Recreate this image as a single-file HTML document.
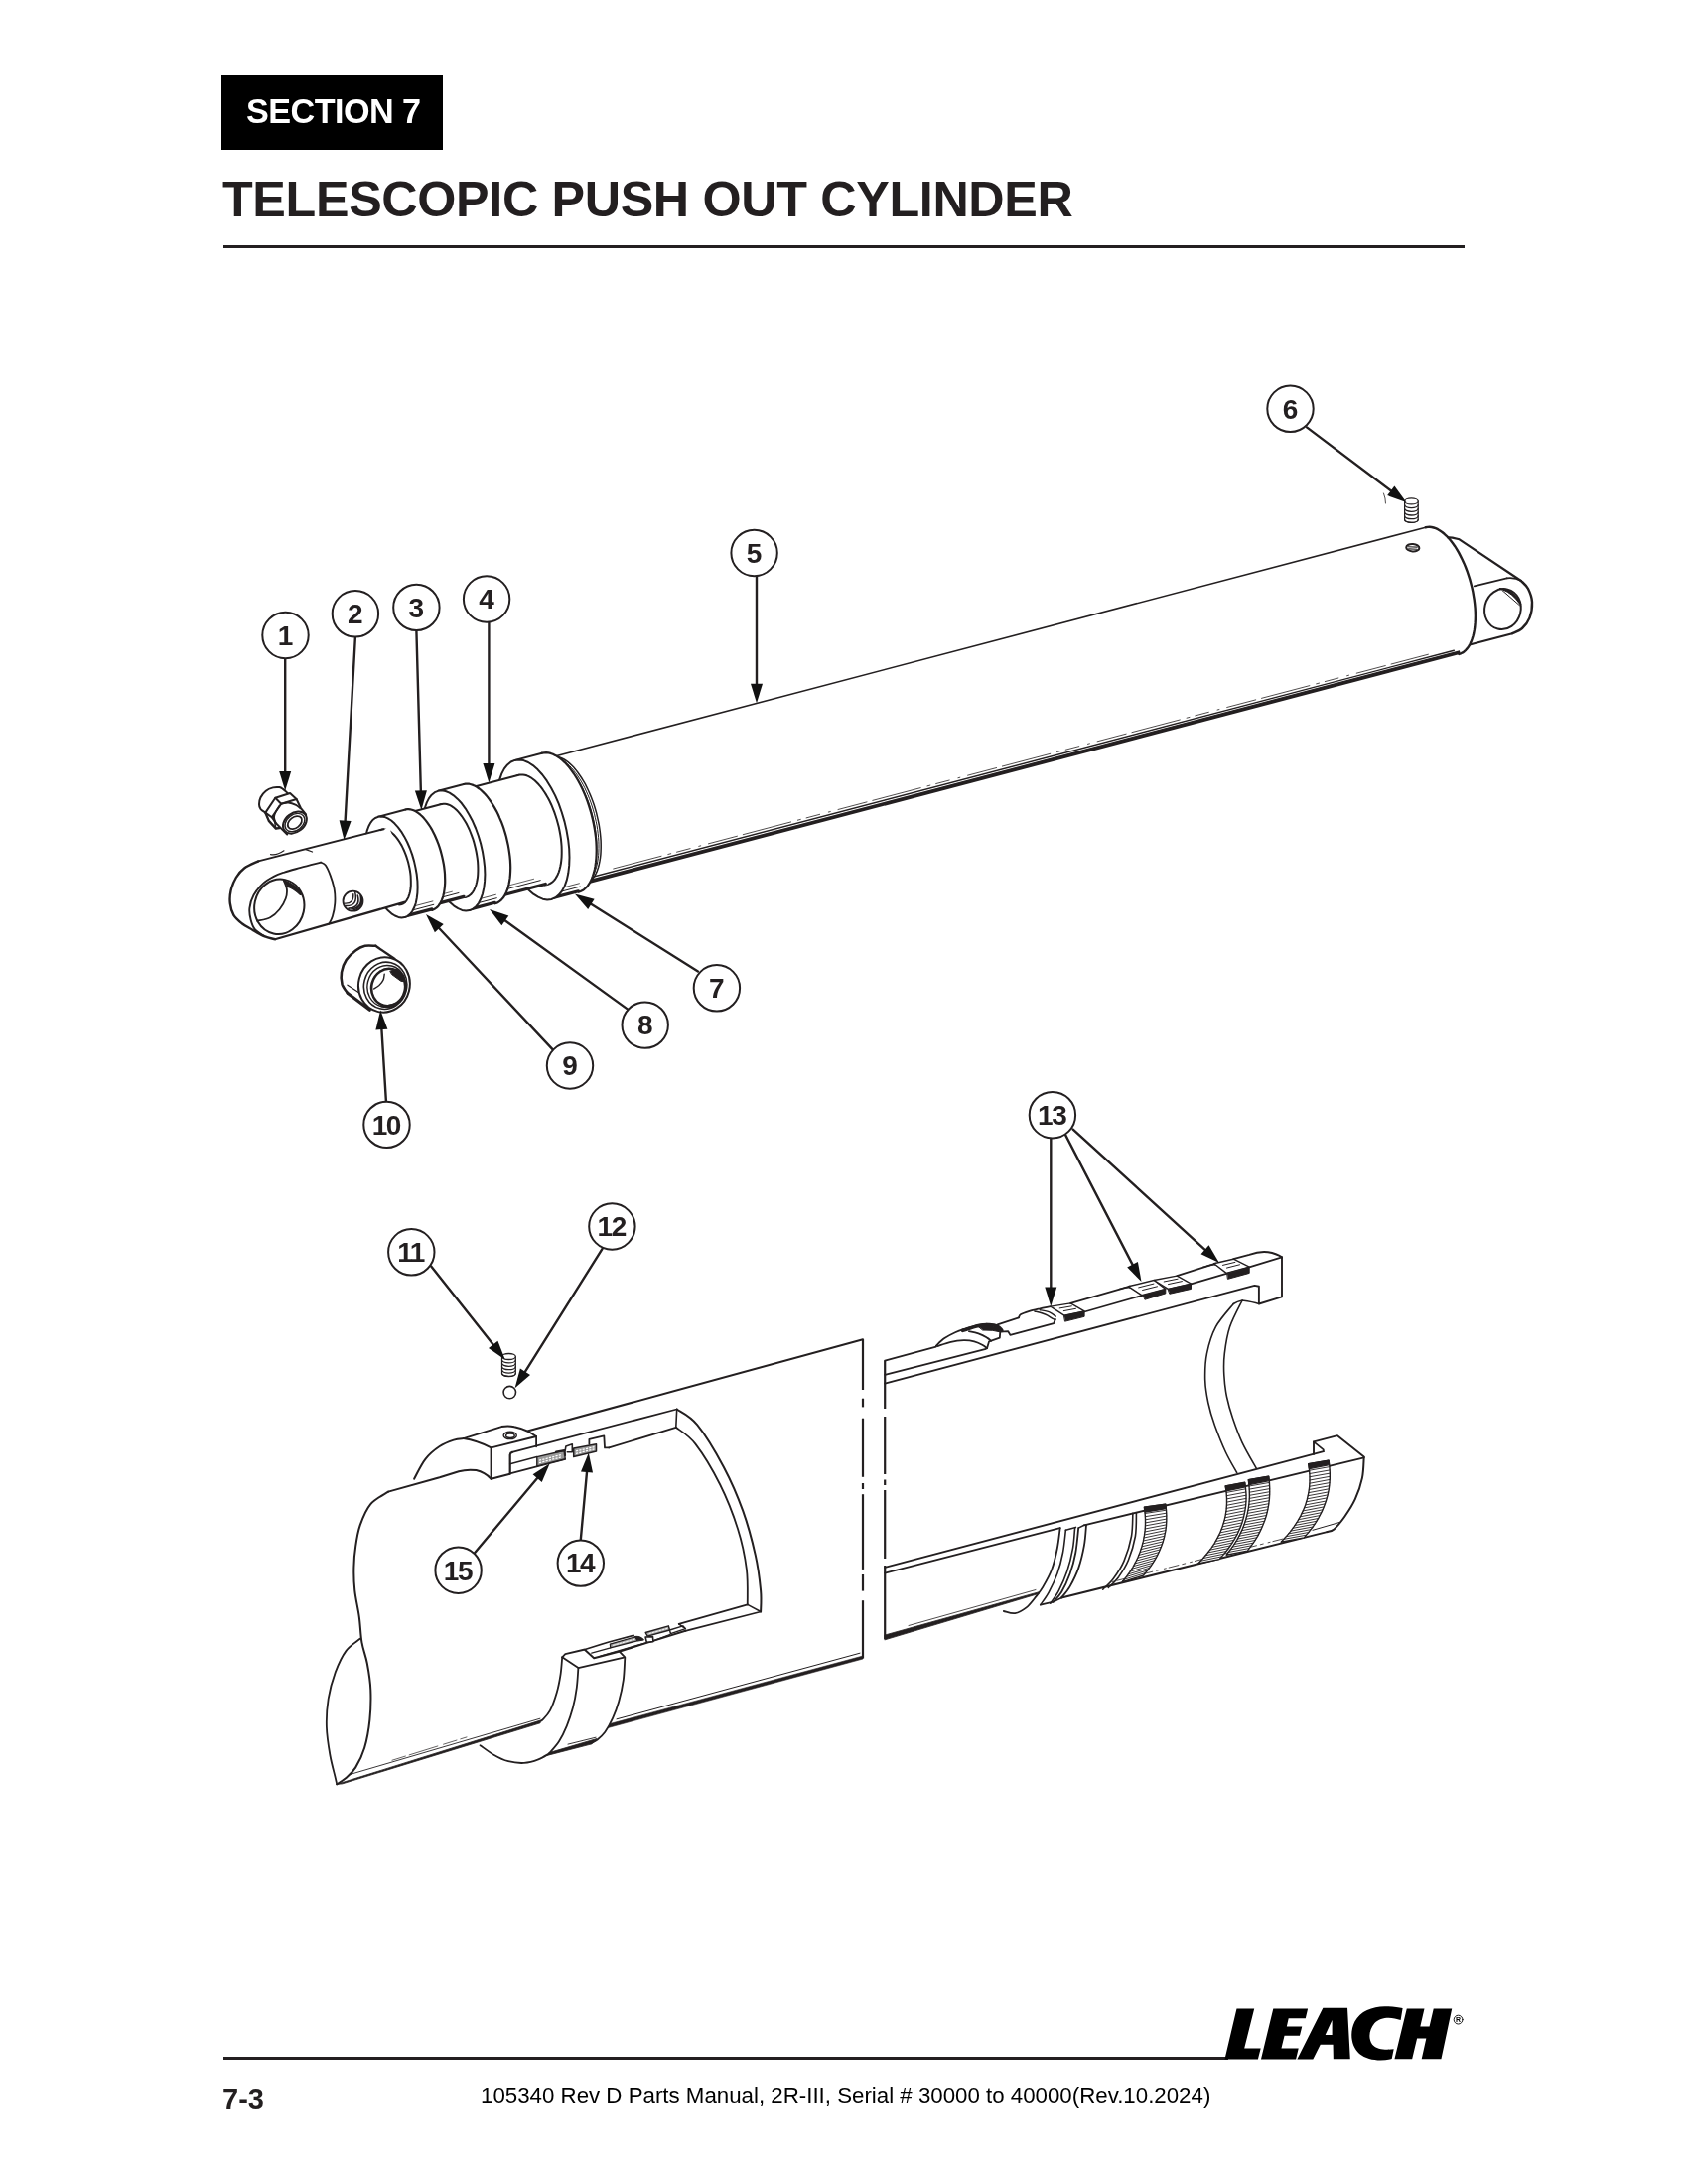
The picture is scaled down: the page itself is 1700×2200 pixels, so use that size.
<!DOCTYPE html>
<html><head><meta charset="utf-8"><title>Telescopic Push Out Cylinder</title>
<style>
html,body{margin:0;padding:0;background:#fff;}
body{width:1700px;height:2200px;position:relative;overflow:hidden;font-family:"Liberation Sans",sans-serif;color:#231f20;}
.sec{position:absolute;left:223px;top:76px;width:223px;height:75px;background:#000;}
.sec span{position:absolute;left:25px;top:15.5px;font-size:34.2px;line-height:40px;font-weight:bold;color:#fff;white-space:nowrap;letter-spacing:-0.55px;}
.title{position:absolute;left:223.7px;top:171px;font-size:50.3px;line-height:60px;font-weight:bold;white-space:nowrap;letter-spacing:-0.35px;color:#231f20;}
.rule1{position:absolute;left:225px;top:247px;width:1250px;height:3px;background:#231f20;}
.rule2{position:absolute;left:225px;top:2071.5px;width:1012px;height:3px;background:#231f20;}
.pg{position:absolute;left:224px;top:2096.5px;font-size:29px;line-height:34px;font-weight:bold;white-space:nowrap;}
.ft{position:absolute;left:483.5px;top:2098px;font-size:22.29px;line-height:26px;white-space:nowrap;color:#000;}
svg{position:absolute;left:0;top:0;will-change:transform;}
.sec,.title,.pg,.ft{will-change:transform;}
svg text{font-family:"Liberation Sans",sans-serif;}
</style></head>
<body>
<div class="sec"><span>SECTION 7</span></div>
<div class="title">TELESCOPIC PUSH OUT CYLINDER</div>
<div class="rule1"></div>
<div class="rule2"></div>
<div class="pg">7-3</div>
<div class="ft">105340 Rev D Parts Manual, 2R-III, Serial # 30000 to 40000(Rev.10.2024)</div>
<svg width="1700" height="2200" viewBox="0 0 1700 2200" stroke-linecap="round" stroke-linejoin="round">
<path d="M1455 541 L1469.7 543.3 L1531.9 585 L1539 593 L1543 606.4 L1540.5 622.4 L1533 633 L1523 638.3 L1470 652 L1450 600Z" fill="#fff" stroke="none" stroke-width="0" />
<path d="M1455.5 541.2 Q1463 541.2 1469.7 543.3 L1531.9 585" fill="none" stroke="#231f20" stroke-width="2.2" />
<path d="M1531.9 585 C1533.1 586.3 1537.2 589.4 1539 593 C1540.8 596.6 1542.8 601.5 1543 606.4 C1543.2 611.3 1542.2 618 1540.5 622.4 C1538.8 626.8 1535.9 630.4 1533 633 C1530.1 635.6 1524.7 637.4 1523 638.3" fill="none" stroke="#231f20" stroke-width="2.4" />
<path d="M1523 638.3 L1478 650" stroke="#231f20" stroke-width="2.2" fill="none" />
<path d="M1484.8 590.4 L1517.7 582.4" stroke="#231f20" stroke-width="1.8" fill="none" />
<path d="M1517.7 582.4 Q1526 581.5 1531.9 585" fill="none" stroke="#231f20" stroke-width="1.8" />
<ellipse cx="1513.4" cy="613.6" rx="18.2" ry="20.6" transform="rotate(14 1513.4 613.6)" fill="#fff" stroke="#231f20" stroke-width="2"/>
<path d="M1510.5 592.5 Q1524.7 592.4 1532 608.8 L1530.6 608.3 Q1523.5 597.6 1514 594.2 Z" fill="#231f20" stroke="#231f20" stroke-width="1" />
<path d="M1512.8 594.5 L1530.6 609.9" fill="none" stroke="#231f20" stroke-width="1" />
<path d="M547.4 764.9 L1435.8 531.2 L1437.7 530.9 L1439.7 530.8 L1441.7 531 L1443.8 531.5 L1445.9 532.2 L1448.1 533.2 L1450.2 534.5 L1452.4 536 L1454.6 537.8 L1456.8 539.8 L1458.9 542.1 L1461 544.6 L1463.1 547.3 L1465.2 550.2 L1467.2 553.3 L1469.1 556.6 L1470.9 560.1 L1472.7 563.7 L1474.4 567.4 L1476 571.3 L1477.5 575.2 L1478.9 579.3 L1480.2 583.4 L1481.3 587.5 L1482.4 591.7 L1483.3 595.9 L1484 600.1 L1484.7 604.3 L1485.2 608.4 L1485.6 612.5 L1485.8 616.5 L1485.9 620.4 L1485.8 624.3 L1485.6 627.9 L1485.3 631.5 L1484.8 634.9 L1484.2 638.1 L1483.4 641.1 L1482.5 643.9 L1481.5 646.6 L1480.4 649 L1479.1 651.2 L1477.7 653.1 L1476.2 654.8 L1474.7 656.2 L1473 657.4 L1471.2 658.3 L1469.4 658.9 L581 892.6Z" fill="#fff" stroke="none" stroke-width="0" />
<path d="M547.4 764.9 L1435.8 531.2" stroke="#231f20" stroke-width="1.6" fill="none" />
<path d="M1435.8 531.2 L1437.7 530.9 L1439.7 530.8 L1441.7 531 L1443.8 531.5 L1445.9 532.2 L1448.1 533.2 L1450.2 534.5 L1452.4 536 L1454.6 537.8 L1456.8 539.8 L1458.9 542.1 L1461 544.6 L1463.1 547.3 L1465.2 550.2 L1467.2 553.3 L1469.1 556.6 L1470.9 560.1 L1472.7 563.7 L1474.4 567.4 L1476 571.3 L1477.5 575.2 L1478.9 579.3 L1480.2 583.4 L1481.3 587.5 L1482.4 591.7 L1483.3 595.9 L1484 600.1 L1484.7 604.3 L1485.2 608.4 L1485.6 612.5 L1485.8 616.5 L1485.9 620.4 L1485.8 624.3 L1485.6 627.9 L1485.3 631.5 L1484.8 634.9 L1484.2 638.1 L1483.4 641.1 L1482.5 643.9 L1481.5 646.6 L1480.4 649 L1479.1 651.2 L1477.7 653.1 L1476.2 654.8 L1474.7 656.2 L1473 657.4 L1471.2 658.3 L1469.4 658.9" fill="none" stroke="#231f20" stroke-width="2.4" />
<path d="M580.7 891.4 L1470.4 657" stroke="#231f20" stroke-width="3.8" fill="none" stroke-linecap="butt"/>
<path d="M585.5 886.3 L1464.3 655.2" stroke="#231f20" stroke-width="1.4" fill="none" />
<path d="M617.7 875 L1438.4 659.2" stroke="#231f20" stroke-width="0.8" fill="none" stroke-dasharray="50 7 3 6 14 9 2 8 30 6"/>
<ellipse cx="1422.8" cy="551.7" rx="6.6" ry="3.7" transform="rotate(4 1422.8 551.7)" fill="#fff" stroke="#231f20" stroke-width="2"/>
<path d="M1418.3 550.7 L1427.3 551.1 M1418.6 552.9 L1427 553.2" fill="none" stroke="#231f20" stroke-width="1.1" />
<path d="M553.3 763.3 L555.2 763.4 L557.2 763.6 L559.1 764.1 L561.1 764.9 L563.2 765.9 L565.2 767.1 L567.3 768.6 L569.3 770.3 L571.4 772.2 L573.4 774.3 L575.4 776.6 L577.4 779.1 L579.3 781.8 L581.2 784.7 L583.1 787.7 L584.9 790.9 L586.6 794.2 L588.2 797.7 L589.8 801.2 L591.3 804.9 L592.7 808.7 L594 812.5 L595.2 816.4 L596.3 820.3 L597.2 824.2 L598.1 828.2 L598.9 832.2 L599.5 836.1 L600 840.1 L600.4 843.9 L600.7 847.8 L600.8 851.5 L600.8 855.1 L600.7 858.7 L600.5 862.1 L600.1 865.4 L599.6 868.6 L599 871.6 L598.3 874.4 L597.4 877.1 L596.5 879.6 L595.4 881.8 L594.2 883.9 L592.9 885.8 L591.6 887.4 L590.1 888.9 L588.5 890 L586.9 891" fill="none" stroke="#231f20" stroke-width="1.2" />
<path d="M555.5 762.8 L557.4 762.8 L559.4 763.1 L561.3 763.6 L563.3 764.3 L565.4 765.3 L567.4 766.6 L569.5 768 L571.5 769.7 L573.6 771.6 L575.6 773.7 L577.6 776 L579.6 778.5 L581.5 781.2 L583.4 784.1 L585.3 787.1 L587.1 790.3 L588.8 793.6 L590.4 797.1 L592 800.7 L593.5 804.3 L594.9 808.1 L596.2 811.9 L597.4 815.8 L598.5 819.7 L599.4 823.7 L600.3 827.6 L601.1 831.6 L601.7 835.6 L602.2 839.5 L602.6 843.4 L602.9 847.2 L603 850.9 L603 854.6 L602.9 858.1 L602.7 861.5 L602.3 864.8 L601.8 868 L601.2 871 L600.5 873.8 L599.6 876.5 L598.7 879 L597.6 881.3 L596.4 883.3 L595.1 885.2 L593.8 886.9 L592.3 888.3 L590.7 889.5 L589.1 890.4" fill="none" stroke="#231f20" stroke-width="1" />
<path d="M557.7 762.2 L559.6 762.2 L561.6 762.5 L563.5 763 L565.5 763.7 L567.6 764.7 L569.6 766 L571.7 767.4 L573.7 769.1 L575.8 771 L577.8 773.1 L579.8 775.4 L581.8 778 L583.7 780.7 L585.6 783.5 L587.5 786.6 L589.3 789.7 L591 793.1 L592.6 796.5 L594.2 800.1 L595.7 803.7 L597.1 807.5 L598.4 811.3 L599.6 815.2 L600.7 819.1 L601.6 823.1 L602.5 827.1 L603.3 831 L603.9 835 L604.4 838.9 L604.8 842.8 L605.1 846.6 L605.2 850.3 L605.2 854 L605.1 857.5 L604.9 861 L604.5 864.3 L604 867.4 L603.4 870.4 L602.7 873.3 L601.8 875.9 L600.9 878.4 L599.8 880.7 L598.6 882.8 L597.3 884.6 L596 886.3 L594.5 887.7 L592.9 888.9 L591.3 889.8" fill="none" stroke="#231f20" stroke-width="1.5" />
<path d="M545.8 758.7 L547.9 758.3 L550.1 758.2 L552.3 758.4 L554.6 758.9 L556.9 759.8 L559.2 760.9 L561.6 762.3 L564 763.9 L566.4 765.9 L568.8 768.1 L571.1 770.6 L573.5 773.4 L575.7 776.3 L578 779.5 L580.2 782.9 L582.3 786.5 L584.3 790.3 L586.3 794.3 L588.1 798.4 L589.9 802.6 L591.5 806.9 L593 811.4 L594.4 815.9 L595.7 820.4 L596.8 825 L597.8 829.6 L598.7 834.3 L599.4 838.8 L600 843.4 L600.4 847.9 L600.6 852.3 L600.7 856.6 L600.6 860.7 L600.4 864.8 L600 868.7 L599.5 872.4 L598.8 875.9 L598 879.2 L597 882.3 L595.9 885.2 L594.7 887.9 L593.3 890.2 L591.8 892.4 L590.1 894.2 L588.4 895.8 L586.6 897.1 L584.6 898 L582.6 898.7 L555.4 905.9 L553.3 906.3 L551.1 906.4 L548.9 906.2 L546.6 905.7 L544.3 904.8 L542 903.7 L539.6 902.3 L537.2 900.7 L534.8 898.7 L532.4 896.5 L530.1 894 L527.7 891.2 L525.5 888.3 L523.2 885.1 L521 881.7 L518.9 878.1 L516.9 874.3 L514.9 870.3 L513.1 866.2 L511.3 862 L509.7 857.7 L508.2 853.2 L506.8 848.7 L505.5 844.2 L504.4 839.6 L503.4 835 L502.5 830.3 L501.8 825.8 L501.2 821.2 L500.8 816.7 L500.6 812.3 L500.5 808 L500.6 803.9 L500.8 799.8 L501.2 795.9 L501.7 792.2 L502.4 788.7 L503.2 785.4 L504.2 782.3 L505.3 779.4 L506.5 776.7 L507.9 774.4 L509.4 772.2 L511.1 770.4 L512.8 768.8 L514.6 767.5 L516.6 766.5 L518.6 765.9Z" fill="#fff" stroke="none" stroke-width="0" />
<path d="M545.8 758.7 L547.9 758.3 L550.1 758.2 L552.3 758.4 L554.6 758.9 L556.9 759.8 L559.2 760.9 L561.6 762.3 L564 763.9 L566.4 765.9 L568.8 768.1 L571.1 770.6 L573.5 773.4 L575.7 776.3 L578 779.5 L580.2 782.9 L582.3 786.5 L584.3 790.3 L586.3 794.3 L588.1 798.4 L589.9 802.6 L591.5 806.9 L593 811.4 L594.4 815.9 L595.7 820.4 L596.8 825 L597.8 829.6 L598.7 834.3 L599.4 838.8 L600 843.4 L600.4 847.9 L600.6 852.3 L600.7 856.6 L600.6 860.7 L600.4 864.8 L600 868.7 L599.5 872.4 L598.8 875.9 L598 879.2 L597 882.3 L595.9 885.2 L594.7 887.9 L593.3 890.2 L591.8 892.4 L590.1 894.2 L588.4 895.8 L586.6 897.1 L584.6 898 L582.6 898.7" fill="none" stroke="#231f20" stroke-width="2.2" />
<path d="M518.6 765.9 L545.8 758.7" stroke="#231f20" stroke-width="2" fill="none" />
<path d="M555.2 904.9 L582.4 897.8" stroke="#231f20" stroke-width="3.2" fill="none" />
<path d="M558 900 L584.2 893.1" stroke="#231f20" stroke-width="1" fill="none" />
<path d="M557.1 896.7 L583.4 889.8" stroke="#231f20" stroke-width="0.8" fill="none" />
<path d="M555.4 905.9 L559.4 904.2 L562.9 901.4 L566.1 897.4 L568.7 892.4 L570.8 886.4 L572.3 879.5 L573.2 871.9 L573.5 863.7 L573.2 855 L572.2 846 L570.6 836.8 L568.5 827.6 L565.8 818.5 L562.7 809.7 L559.1 801.4 L555.1 793.7 L550.8 786.7 L546.3 780.5 L541.6 775.3 L536.8 771.1 L532 768 L527.4 766.1 L522.9 765.4 L518.6 765.9 L514.6 767.5 L511.1 770.4 L507.9 774.4 L505.3 779.4 L503.2 785.4 L501.7 792.2 L500.8 799.8 L500.5 808 L500.8 816.7 L501.8 825.8 L503.4 835 L505.5 844.2 L508.2 853.2 L511.3 862 L514.9 870.3 L518.9 878.1 L523.2 885.1 L527.7 891.2 L532.4 896.5 L537.2 900.7 L542 903.7 L546.6 905.7 L551.1 906.4 L555.4 905.9Z" fill="#fff" stroke="#231f20" stroke-width="2" />
<path d="M548.4 891.4 L550.3 891.3 L552 890.9 L553.7 890.2 L555.3 889.2 L556.8 888 L558.2 886.6 L559.5 884.8 L560.7 882.9 L561.8 880.7 L562.8 878.3 L563.6 875.6 L564.3 872.8 L564.9 869.8 L565.3 866.6 L565.6 863.3 L565.7 859.8 L565.7 856.2 L565.6 852.5 L565.3 848.8 L564.9 844.9 L564.3 841.1 L563.6 837.2 L562.8 833.2 L561.8 829.4 L560.7 825.5 L559.5 821.7 L558.2 817.9 L556.8 814.3 L555.3 810.7 L553.7 807.3 L552 804 L550.2 800.9 L548.4 798 L546.5 795.2 L544.6 792.6 L542.6 790.3 L540.6 788.2 L538.6 786.3 L536.6 784.7 L534.6 783.3 L532.5 782.2 L530.6 781.3 L528.6 780.7 L526.7 780.4 L524.8 780.4 L523 780.6 L521.3 781.1 L519.6 781.9" fill="none" stroke="#231f20" stroke-width="2" />
<path d="M468.3 795 L522.5 780.8 L551.5 891 L497.3 905.3Z" fill="#fff" stroke="none" stroke-width="0" />
<path d="M468.3 795 L522.5 780.8" stroke="#231f20" stroke-width="2" fill="none" />
<path d="M497 904.3 L549.3 890.5" stroke="#231f20" stroke-width="3.2" fill="none" />
<path d="M503.5 897.4 L544.2 886.7" stroke="#231f20" stroke-width="1" fill="none" />
<path d="M506.6 893.5 L537.6 885.3" stroke="#231f20" stroke-width="0.7" fill="none" />
<path d="M467 790 L468.8 789.6 L470.6 789.6 L472.6 789.7 L474.5 790.2 L476.5 790.9 L478.5 791.8 L480.6 793 L482.6 794.5 L484.7 796.2 L486.7 798.1 L488.8 800.2 L490.8 802.6 L492.7 805.1 L494.6 807.9 L496.5 810.8 L498.3 813.9 L500.1 817.1 L501.8 820.5 L503.3 824.1 L504.9 827.7 L506.3 831.4 L507.6 835.2 L508.8 839.1 L509.9 843 L510.8 847 L511.7 850.9 L512.4 854.9 L513 858.8 L513.5 862.7 L513.9 866.6 L514.1 870.4 L514.2 874 L514.1 877.6 L513.9 881.1 L513.6 884.4 L513.1 887.6 L512.5 890.7 L511.8 893.5 L511 896.2 L510 898.7 L509 900.9 L507.8 903 L506.5 904.8 L505.1 906.4 L503.6 907.7 L502 908.8 L500.4 909.7 L498.6 910.3 L472.8 917.1 L471 917.4 L469.2 917.5 L467.2 917.3 L465.3 916.9 L463.3 916.2 L461.3 915.2 L459.2 914 L457.2 912.6 L455.1 910.9 L453.1 909 L451 906.8 L449 904.5 L447.1 901.9 L445.2 899.2 L443.3 896.3 L441.5 893.2 L439.7 889.9 L438 886.5 L436.5 883 L434.9 879.4 L433.5 875.6 L432.2 871.8 L431 868 L429.9 864 L429 860.1 L428.1 856.1 L427.4 852.2 L426.8 848.2 L426.3 844.3 L425.9 840.5 L425.7 836.7 L425.6 833 L425.7 829.4 L425.9 825.9 L426.2 822.6 L426.7 819.4 L427.3 816.4 L428 813.5 L428.8 810.9 L429.8 808.4 L430.8 806.1 L432 804.1 L433.3 802.2 L434.7 800.7 L436.2 799.3 L437.8 798.2 L439.4 797.4 L441.2 796.8Z" fill="#fff" stroke="none" stroke-width="0" />
<path d="M467 790 L468.8 789.6 L470.6 789.6 L472.6 789.7 L474.5 790.2 L476.5 790.9 L478.5 791.8 L480.6 793 L482.6 794.5 L484.7 796.2 L486.7 798.1 L488.8 800.2 L490.8 802.6 L492.7 805.1 L494.6 807.9 L496.5 810.8 L498.3 813.9 L500.1 817.1 L501.8 820.5 L503.3 824.1 L504.9 827.7 L506.3 831.4 L507.6 835.2 L508.8 839.1 L509.9 843 L510.8 847 L511.7 850.9 L512.4 854.9 L513 858.8 L513.5 862.7 L513.9 866.6 L514.1 870.4 L514.2 874 L514.1 877.6 L513.9 881.1 L513.6 884.4 L513.1 887.6 L512.5 890.7 L511.8 893.5 L511 896.2 L510 898.7 L509 900.9 L507.8 903 L506.5 904.8 L505.1 906.4 L503.6 907.7 L502 908.8 L500.4 909.7 L498.6 910.3" fill="none" stroke="#231f20" stroke-width="2.2" />
<path d="M441.2 796.8 L467 790" stroke="#231f20" stroke-width="2" fill="none" />
<path d="M472.6 916.1 L498.4 909.3" stroke="#231f20" stroke-width="3.2" fill="none" />
<path d="M475.4 911.2 L500.3 904.7" stroke="#231f20" stroke-width="1" fill="none" />
<path d="M474.5 907.8 L499.4 901.3" stroke="#231f20" stroke-width="0.8" fill="none" />
<path d="M472.8 917.1 L476.2 915.6 L479.3 913.2 L482 909.8 L484.2 905.5 L486 900.3 L487.3 894.4 L488.1 887.9 L488.4 880.8 L488.1 873.4 L487.2 865.6 L485.9 857.7 L484.1 849.8 L481.8 842 L479.1 834.5 L476 827.3 L472.5 820.7 L468.8 814.6 L465 809.3 L460.9 804.9 L456.8 801.3 L452.7 798.6 L448.7 797 L444.8 796.3 L441.2 796.8 L437.8 798.2 L434.7 800.7 L432 804.1 L429.8 808.4 L428 813.5 L426.7 819.4 L425.9 825.9 L425.6 833 L425.9 840.5 L426.8 848.2 L428.1 856.1 L429.9 864 L432.2 871.8 L434.9 879.4 L438 886.5 L441.5 893.2 L445.2 899.2 L449 904.5 L453.1 909 L457.2 912.6 L461.3 915.2 L465.3 916.9 L469.2 917.5 L472.8 917.1Z" fill="#fff" stroke="#231f20" stroke-width="2" />
<path d="M466.7 904.1 L468.3 904 L469.8 903.7 L471.2 903.1 L472.6 902.3 L473.9 901.3 L475.1 900 L476.2 898.6 L477.2 896.9 L478.1 895 L478.9 893 L479.6 890.7 L480.2 888.3 L480.7 885.8 L481.1 883.1 L481.3 880.2 L481.4 877.3 L481.4 874.2 L481.3 871.1 L481.1 867.9 L480.7 864.6 L480.2 861.3 L479.6 858 L478.9 854.7 L478.1 851.4 L477.2 848.1 L476.2 844.8 L475 841.6 L473.8 838.5 L472.6 835.5 L471.2 832.6 L469.8 829.8 L468.3 827.2 L466.7 824.7 L465.1 822.3 L463.4 820.1 L461.8 818.1 L460.1 816.3 L458.4 814.7 L456.6 813.3 L454.9 812.2 L453.2 811.2 L451.5 810.5 L449.9 810 L448.2 809.7 L446.6 809.7 L445.1 809.9 L443.6 810.3 L442.2 811" fill="none" stroke="#231f20" stroke-width="2" />
<path d="M409.5 819.3 L444.7 810 L469.3 903.8 L434.1 913.1Z" fill="#fff" stroke="none" stroke-width="0" />
<path d="M409.5 819.3 L444.7 810" stroke="#231f20" stroke-width="2" fill="none" />
<path d="M433.9 912.1 L467.1 903.4" stroke="#231f20" stroke-width="3.2" fill="none" />
<path d="M440.3 905.2 L462 899.5" stroke="#231f20" stroke-width="1" fill="none" />
<path d="M443.5 901.3 L455.4 898.2" stroke="#231f20" stroke-width="0.7" fill="none" />
<path d="M408.5 815.5 L410 815.2 L411.6 815.1 L413.2 815.3 L414.8 815.7 L416.5 816.3 L418.2 817.1 L419.9 818.1 L421.7 819.3 L423.4 820.7 L425.1 822.3 L426.8 824.1 L428.5 826.1 L430.2 828.3 L431.8 830.6 L433.4 833 L434.9 835.6 L436.4 838.4 L437.8 841.2 L439.1 844.2 L440.4 847.3 L441.6 850.4 L442.7 853.6 L443.7 856.9 L444.6 860.2 L445.4 863.5 L446.1 866.8 L446.8 870.2 L447.3 873.5 L447.7 876.8 L448 880 L448.1 883.2 L448.2 886.3 L448.2 889.3 L448 892.3 L447.7 895.1 L447.3 897.8 L446.9 900.3 L446.3 902.7 L445.6 905 L444.7 907.1 L443.8 909 L442.8 910.7 L441.8 912.2 L440.6 913.6 L439.3 914.7 L438 915.6 L436.6 916.3 L435.1 916.9 L407.5 924.1 L406 924.4 L404.4 924.5 L402.8 924.3 L401.2 923.9 L399.5 923.3 L397.8 922.5 L396.1 921.5 L394.3 920.3 L392.6 918.9 L390.9 917.3 L389.2 915.5 L387.5 913.5 L385.8 911.4 L384.2 909 L382.6 906.6 L381.1 904 L379.6 901.2 L378.2 898.4 L376.9 895.4 L375.6 892.3 L374.4 889.2 L373.3 886 L372.3 882.7 L371.4 879.4 L370.6 876.1 L369.9 872.8 L369.2 869.4 L368.7 866.1 L368.3 862.8 L368 859.6 L367.9 856.4 L367.8 853.3 L367.8 850.3 L368 847.3 L368.3 844.5 L368.7 841.8 L369.1 839.3 L369.7 836.9 L370.4 834.6 L371.3 832.5 L372.2 830.6 L373.2 828.9 L374.2 827.4 L375.4 826 L376.7 824.9 L378 824 L379.4 823.3 L380.9 822.8Z" fill="#fff" stroke="none" stroke-width="0" />
<path d="M408.5 815.5 L410 815.2 L411.6 815.1 L413.2 815.3 L414.8 815.7 L416.5 816.3 L418.2 817.1 L419.9 818.1 L421.7 819.3 L423.4 820.7 L425.1 822.3 L426.8 824.1 L428.5 826.1 L430.2 828.3 L431.8 830.6 L433.4 833 L434.9 835.6 L436.4 838.4 L437.8 841.2 L439.1 844.2 L440.4 847.3 L441.6 850.4 L442.7 853.6 L443.7 856.9 L444.6 860.2 L445.4 863.5 L446.1 866.8 L446.8 870.2 L447.3 873.5 L447.7 876.8 L448 880 L448.1 883.2 L448.2 886.3 L448.2 889.3 L448 892.3 L447.7 895.1 L447.3 897.8 L446.9 900.3 L446.3 902.7 L445.6 905 L444.7 907.1 L443.8 909 L442.8 910.7 L441.8 912.2 L440.6 913.6 L439.3 914.7 L438 915.6 L436.6 916.3 L435.1 916.9" fill="none" stroke="#231f20" stroke-width="2.2" />
<path d="M380.9 822.8 L408.5 815.5" stroke="#231f20" stroke-width="2" fill="none" />
<path d="M407.3 923.1 L434.9 915.9" stroke="#231f20" stroke-width="3.2" fill="none" />
<path d="M410.1 918.3 L436.8 911.3" stroke="#231f20" stroke-width="1" fill="none" />
<path d="M409.2 914.9 L435.9 907.9" stroke="#231f20" stroke-width="0.8" fill="none" />
<path d="M407.5 924.1 L410.4 922.9 L413 920.8 L415.2 918 L417.1 914.3 L418.7 910 L419.7 905 L420.4 899.5 L420.6 893.6 L420.4 887.3 L419.7 880.8 L418.5 874.1 L417 867.4 L415.1 860.9 L412.8 854.5 L410.2 848.5 L407.3 842.9 L404.2 837.8 L400.9 833.4 L397.5 829.6 L394.1 826.5 L390.6 824.3 L387.2 822.9 L384 822.4 L380.9 822.8 L378 824 L375.4 826 L373.2 828.9 L371.3 832.5 L369.7 836.9 L368.7 841.8 L368 847.3 L367.8 853.3 L368 859.6 L368.7 866.1 L369.9 872.8 L371.4 879.4 L373.3 886 L375.6 892.3 L378.2 898.4 L381.1 904 L384.2 909 L387.5 913.5 L390.9 917.3 L394.3 920.3 L397.8 922.5 L401.2 923.9 L404.4 924.5 L407.5 924.1Z" fill="#fff" stroke="#231f20" stroke-width="2" />
<path d="M402 911.4 L403.3 911.3 L404.5 911 L405.6 910.6 L406.7 909.9 L407.8 909.1 L408.7 908.1 L409.6 906.9 L410.4 905.6 L411.2 904.1 L411.8 902.4 L412.4 900.6 L412.9 898.7 L413.3 896.6 L413.6 894.5 L413.8 892.2 L413.8 889.8 L413.8 887.4 L413.7 884.8 L413.6 882.3 L413.3 879.6 L412.9 877 L412.4 874.3 L411.8 871.6 L411.2 869 L410.4 866.3 L409.6 863.7 L408.7 861.2 L407.7 858.7 L406.7 856.2 L405.6 853.9 L404.5 851.6 L403.2 849.5 L402 847.5 L400.7 845.6 L399.4 843.9 L398 842.2 L396.7 840.8 L395.3 839.5 L393.9 838.4 L392.5 837.4 L391.2 836.7 L389.8 836.1 L388.5 835.7 L387.1 835.5 L385.9 835.5 L384.6 835.6 L383.5 836 L382.3 836.5" fill="none" stroke="#231f20" stroke-width="2" />
<path d="M392 834 L346.8 846.1 L302.9 856.7 L260.3 867.4 L246.1 874.5 L237.8 884 L232.6 897 L231.8 910 L235.4 921.9 L243.7 930.2 L254.4 936.7 L266.2 943.2 L276.9 946.2 L302.9 939.7 L338.5 929 L374 918.3 L408 908.6 L412 880Z" fill="#fff" stroke="none" stroke-width="0" />
<path d="M386.5 835.2 L260.3 867.4" stroke="#231f20" stroke-width="2" fill="none" />
<path d="M260.3 867.4 C257.9 868.6 249.8 871.7 246.1 874.5 C242.3 877.3 240.1 880.2 237.8 884 C235.6 887.8 233.6 892.7 232.6 897 C231.6 901.3 231.3 905.9 231.8 910 C232.3 914.1 233.4 918.5 235.4 921.9 C237.4 925.3 240.5 927.7 243.7 930.2 C246.9 932.7 250.7 934.5 254.4 936.7 C258.1 938.9 262.4 941.6 266.2 943.2 C269.9 944.8 275.1 945.7 276.9 946.2" fill="none" stroke="#231f20" stroke-width="2.4" />
<path d="M276.9 946.2 L408 908.6" stroke="#231f20" stroke-width="2.2" fill="none" />
<path d="M323.1 868.6 C319.7 869.5 309 872.2 302.9 873.9 C296.8 875.6 290.9 877.1 286.4 878.6 C281.9 880.1 279.3 880.9 275.7 882.8 C272.1 884.7 268.4 886.7 265 889.9 C261.6 893.1 257.8 897.6 255.5 901.8 C253.2 905.9 251.9 910.7 251.4 914.8 C250.9 918.9 251.7 923 252.6 926.6 C253.5 930.2 254.4 933.3 256.7 936.1 C259 938.9 264.6 942 266.2 943.2" fill="none" stroke="#231f20" stroke-width="1.9" />
<path d="M323.1 868.6 C323.9 869.1 326.2 869.3 327.8 871.5 C329.4 873.7 331.1 877.6 332.6 881.6 C334.1 885.6 335.9 891.1 336.7 895.8 C337.5 900.5 337.6 905.5 337.3 910 C337 914.5 335.9 919.7 334.9 923.1 C333.9 926.5 332 929.4 331.4 930.6" fill="none" stroke="#231f20" stroke-width="1.8" />
<ellipse cx="281.3" cy="913.3" rx="25" ry="27.8" transform="rotate(12 281.3 913.3)" fill="#fff" stroke="#231f20" stroke-width="2"/>
<path d="M285.8 886.9 C286.3 888.4 288.6 892.7 288.9 895.8 C289.2 898.9 288.9 901.9 287.7 905.3 C286.5 908.7 284.2 912.8 281.6 916 C279 919.2 275.9 922.3 272.1 924.3 C268.4 926.3 261.3 927.2 259.1 927.8" fill="none" stroke="#231f20" stroke-width="1.8" />
<path d="M286.5 887 Q297 890 304 901 L302.5 901.5 Q294 894 290 893.5 Z" fill="#231f20" stroke="#231f20" stroke-width="1.2" />
<path d="M272.5 860.6 Q279 861.8 286 856.8" fill="none" stroke="#231f20" stroke-width="1.1" />
<path d="M308 855.6 L314.5 858" fill="none" stroke="#231f20" stroke-width="1.3" />
<circle cx="355.5" cy="907.7" r="10" fill="#fff" stroke="#231f20" stroke-width="1.8"/>
<path d="M355.8 900.7 Q356.5 910.5 347.3 910.1" fill="none" stroke="#231f20" stroke-width="1.4" />
<path d="M357.7 898.9 Q361 913 348.1 912.5" fill="none" stroke="#231f20" stroke-width="1.5" />
<path d="M360.3 902.1 Q363.5 914.5 351 915.1" fill="none" stroke="#231f20" stroke-width="1.6" />
<path d="M363.3 902.3 Q365.5 914.5 354.2 915.7" fill="none" stroke="#231f20" stroke-width="1.8" />
<path d="M364.8 905 Q364.5 915 356 917" fill="none" stroke="#231f20" stroke-width="1.6" />
<path d="M289.8 799 L285 794.9 L281.5 793.1 L275 793.4 L267.8 796.7 L262.5 803.2 L261 810.3 L262.5 815 L267.3 818.6 L270.8 826.9 L277.9 834.6 L281.5 834.3 L285 836.4 L289.2 840.5 L299.2 839.9 L306.4 832.8 L308.7 823.3 L308.1 820.4 L302.8 813.8 L298.6 805 L292.1 799Z" fill="#fff" stroke="none" stroke-width="0" />
<path d="M289.8 799 C289 798.3 286.4 795.9 285 794.9 C283.6 793.9 283.1 793.4 281.5 793.1 C279.8 792.9 277.2 792.8 275 793.4 C272.7 794 269.9 795 267.8 796.7 C265.8 798.3 263.6 800.9 262.5 803.2 C261.4 805.4 261 808.3 261 810.3 C261 812.3 261.5 813.6 262.5 815 C263.5 816.4 266.5 818 267.3 818.6" fill="none" stroke="#231f20" stroke-width="2" />
<path d="M277.3 803.8 L292.1 799 L298.6 805 L283.2 809.7Z" fill="#fff" stroke="#231f20" stroke-width="2" />
<path d="M277.3 803.8 L267.3 818.6 L273.8 823.3 L283.2 809.7" fill="none" stroke="#231f20" stroke-width="2" />
<path d="M267.3 818.6 L270.8 826.9 L277.9 834.6 L281.5 834" fill="none" stroke="#231f20" stroke-width="2.4" />
<path d="M273.8 823.3 L277.9 829.2 L285 836.4 L289.2 840.5" fill="none" stroke="#231f20" stroke-width="2" />
<path d="M275.5 822.1 L277.9 834.6" fill="none" stroke="#231f20" stroke-width="1.4" />
<path d="M298.6 805 L302.8 813.8 L308.1 820.4" fill="none" stroke="#231f20" stroke-width="2" />
<path d="M283.2 809.7 C284.4 809.5 287.9 808.3 290.4 808.5 C292.8 808.7 296 809.9 298.1 810.9 C300.1 811.9 302 813.8 302.8 814.4" fill="none" stroke="#231f20" stroke-width="1.8" />
<path d="M281.5 811.5 C280.9 812.5 278.8 815.4 277.9 817.4 C277 819.4 276.1 821.3 276.1 823.3 C276.1 825.3 277.6 828.3 277.9 829.2" fill="none" stroke="#231f20" stroke-width="1.6" />
<ellipse cx="296.9" cy="828.6" rx="13.2" ry="9.5" transform="rotate(-38 296.9 828.6)" fill="#fff" stroke="#231f20" stroke-width="2.0"/>
<ellipse cx="296.9" cy="828.6" rx="11" ry="7.9" transform="rotate(-38 296.9 828.6)" fill="#fff" stroke="#231f20" stroke-width="1.4"/>
<ellipse cx="296.9" cy="828.6" rx="8" ry="5.4" transform="rotate(-38 296.9 828.6)" fill="#fff" stroke="#231f20" stroke-width="1.8"/>
<path d="M363.5 1009.6 L349.9 1000.2 L344.5 991.3 L344 979.4 L348.7 967 L358.2 957.5 L367.7 952.8 L378.3 952.8 L397.3 965.8 L412.7 987.1 L384.2 1019.7Z" fill="#fff" stroke="none" stroke-width="0" />
<path d="M349.9 1000.2 C349 998.7 345.5 994.7 344.5 991.3 C343.6 987.8 343.3 983.5 344 979.4 C344.6 975.4 346.3 970.6 348.7 967 C351.1 963.3 355 959.9 358.2 957.5 C361.3 955.1 364.3 953.6 367.7 952.8 C371 952 376.5 952.8 378.3 952.8" fill="none" stroke="#231f20" stroke-width="2.6" />
<path d="M378.3 952.8 L397.3 965.8" fill="none" stroke="#231f20" stroke-width="2.4" />
<path d="M349.9 1000.2 L372.4 1017.3" fill="none" stroke="#231f20" stroke-width="3" />
<path d="M349.9 992.2 L361.1 999.6" fill="none" stroke="#231f20" stroke-width="1.2" />
<ellipse cx="386.9" cy="991.9" rx="25.8" ry="27.8" transform="rotate(14 386.9 991.9)" fill="#fff" stroke="#231f20" stroke-width="2.0"/>
<ellipse cx="388.1" cy="992.8" rx="21.6" ry="23.7" transform="rotate(14 388.1 992.8)" fill="#fff" stroke="#231f20" stroke-width="1.6"/>
<ellipse cx="389.3" cy="993.4" rx="19.3" ry="21" transform="rotate(14 389.3 993.4)" fill="#fff" stroke="#231f20" stroke-width="1.4"/>
<ellipse cx="391.1" cy="994.5" rx="16.9" ry="18.8" transform="rotate(14 391.1 994.5)" fill="#fff" stroke="#231f20" stroke-width="2.6"/>
<path d="M387.2 981.2 C387 982.2 386.9 985.3 386 987.1 C385.1 989 383.5 991 381.9 992.5 C380.3 993.9 377.4 995.4 376.5 996" fill="none" stroke="#231f20" stroke-width="1.4" />
<path d="M393.1 978.2 L400.2 975.9 L406.8 982.4 L407.9 988.9 L403.8 988.3 L394.9 981.8Z" fill="#231f20" stroke="#231f20" stroke-width="1" />
<path d="M384.2 1013.8 C384.2 1014.2 390.3 1015.1 393.1 1014.4 C396 1013.7 401.4 1010 401.4 1009.6 C401.4 1009.2 396 1011.3 393.1 1012 C390.3 1012.7 384.2 1013.4 384.2 1013.8Z" fill="#231f20" stroke="#231f20" stroke-width="1" />
<path d="M1414.6 504.9 L1414.6 523.4 A6.8 3 0 0 0 1428.2 523.4 L1428.2 504.9 Z" fill="#fff" stroke="#231f20" stroke-width="1.2" />
<path d="M1414.6 508.6 A6.8 3 0 0 0 1428.2 508.6" fill="none" stroke="#231f20" stroke-width="1.3" />
<path d="M1414.6 512.3 A6.8 3 0 0 0 1428.2 512.3" fill="none" stroke="#231f20" stroke-width="1.3" />
<path d="M1414.6 516 A6.8 3 0 0 0 1428.2 516" fill="none" stroke="#231f20" stroke-width="1.3" />
<path d="M1414.6 519.7 A6.8 3 0 0 0 1428.2 519.7" fill="none" stroke="#231f20" stroke-width="1.3" />
<path d="M1414.6 523.4 A6.8 3 0 0 0 1428.2 523.4" fill="none" stroke="#231f20" stroke-width="1.3" />
<ellipse cx="1421.4" cy="504.9" rx="6.8" ry="3" fill="#fff" stroke="#231f20" stroke-width="1.3"/>
<path d="M1393.5 497 Q1395.5 502 1395.5 507" fill="none" stroke="#231f20" stroke-width="0.8" />
<path d="M532.2 1441.3 L869 1349.2 L869 1669.6 L612.4 1738.6Z" fill="#fff" stroke="none" stroke-width="0" />
<path d="M532.2 1441.3 L869 1349.2" stroke="#231f20" stroke-width="2" fill="none" />
<path d="M869 1349.2 L869 1400" stroke="#231f20" stroke-width="2.2" fill="none" stroke-linecap="butt"/>
<path d="M869 1408.7 L869 1417.4" stroke="#231f20" stroke-width="2.2" fill="none" stroke-linecap="butt"/>
<path d="M869 1428.7 L869 1487.8" stroke="#231f20" stroke-width="2.2" fill="none" stroke-linecap="butt"/>
<path d="M869 1494 L869 1500" stroke="#231f20" stroke-width="2.2" fill="none" stroke-linecap="butt"/>
<path d="M869 1505.2 L869 1580.9" stroke="#231f20" stroke-width="2.2" fill="none" stroke-linecap="butt"/>
<path d="M869 1586 L869 1602.6" stroke="#231f20" stroke-width="2.2" fill="none" stroke-linecap="butt"/>
<path d="M869 1612.2 L869 1670.5" stroke="#231f20" stroke-width="2.2" fill="none" stroke-linecap="butt"/>
<path d="M612.4 1737 L869 1668 L869 1671 L612.4 1740.5Z" fill="#231f20" stroke="#231f20" stroke-width="0.6" />
<path d="M621 1731.8 L866 1665.2" stroke="#231f20" stroke-width="1" fill="none" />
<path d="M515.9 1462.9 L681.7 1419.5" stroke="#231f20" stroke-width="1.8" fill="none" />
<path d="M681.7 1419.5 L680.8 1437.8" stroke="#231f20" stroke-width="1.6" fill="none" />
<path d="M613.3 1458.4 L680.8 1437.8" stroke="#231f20" stroke-width="1.8" fill="none" />
<path d="M681.7 1419.5 C685.1 1422.1 694.2 1425.4 702.1 1435.1 C710 1444.8 721.1 1463.2 728.8 1477.7 C736.5 1492.2 743 1507.4 748.3 1522.2 C753.6 1537 757.8 1553.3 760.8 1566.6 C763.8 1579.9 765.2 1592.6 766.1 1602.1 C767 1611.6 766.1 1619.9 766.1 1623.5" fill="none" stroke="#231f20" stroke-width="2" />
<path d="M680.8 1437.8 C684.1 1440.6 693 1445 700.4 1454.6 C707.8 1464.2 718.1 1481.3 725.2 1495.5 C732.3 1509.7 738.5 1525.7 743 1539.9 C747.5 1554.1 750.3 1568 751.9 1580.8 C753.5 1593.5 752.6 1610.5 752.8 1616.4" fill="none" stroke="#231f20" stroke-width="1.8" />
<path d="M752.8 1616.4 L766.1 1623.5" stroke="#231f20" stroke-width="1.6" fill="none" />
<path d="M752.8 1616.4 L683.7 1635.8" stroke="#231f20" stroke-width="1.8" fill="none" />
<path d="M766.1 1623.5 L690.3 1642.8" stroke="#231f20" stroke-width="1.8" fill="none" />
<path d="M466.8 1449.1 C465.1 1449.3 460.9 1449.3 456.9 1450.6 C452.9 1451.9 447.4 1453.8 442.7 1457 C437.9 1460.2 432.7 1464.3 428.4 1469.8 C424.1 1475.2 419 1486.4 417.1 1489.7" fill="none" stroke="#231f20" stroke-width="2" />
<path d="M466.8 1449.1 L505.2 1437.1 Q512 1435.6 518 1437.3 Q526 1439 532.2 1442 L540.1 1447 L494.6 1458.4 Q480 1451 466.8 1449.1 Z" fill="#fff" stroke="#231f20" stroke-width="2" />
<path d="M494.6 1458.4 L494.6 1489.7 L513.7 1484.7" fill="none" stroke="#231f20" stroke-width="2" />
<path d="M540.1 1447 L540.1 1457.3" stroke="#231f20" stroke-width="1.8" fill="none" />
<ellipse cx="513.7" cy="1445.9" rx="6.6" ry="3.7" fill="#fff" stroke="#231f20" stroke-width="1.4"/>
<ellipse cx="513.9" cy="1446.3" rx="4.3" ry="2.2" fill="none" stroke="#231f20" stroke-width="1.5"/>
<path d="M391.1 1502.6 L442.7 1488.2 L462 1482.3 Q470 1480 479.6 1481.1 Q488 1483 494.6 1489.7" fill="none" stroke="#231f20" stroke-width="2" />
<path d="M513.7 1484.4 L513.7 1465.5 Q513.9 1463.4 515.9 1462.9" fill="none" stroke="#231f20" stroke-width="2.2" />
<path d="M513.7 1474.7 L540.8 1467.6" stroke="#231f20" stroke-width="1.6" fill="none" />
<path d="M513.7 1484.4 L569.2 1469.8" stroke="#231f20" stroke-width="1.8" fill="none" />
<path d="M540.8 1467.6 L568.5 1461.2 L569.2 1469.8 L540.8 1476.9Z" fill="#9a9a9a" stroke="#231f20" stroke-width="1.4" />
<path d="M543 1471.2 L566 1465.3 M543 1473.6 L566 1467.7" fill="none" stroke="#fff" stroke-width="1.3" stroke-dasharray="2.2 1.2" stroke-linecap="butt"/>
<path d="M560 1462.5 L568.5 1461.2 L569 1466" fill="none" stroke="#231f20" stroke-width="2.2" />
<path d="M569.2 1461.2 L569.9 1457 L576.3 1454.8 L576.3 1462.7 L571.3 1462.7" fill="none" stroke="#231f20" stroke-width="1.6" />
<path d="M577.7 1459.1 L600.5 1454.8 L600.5 1461.9 L577.7 1467.6Z" fill="#9a9a9a" stroke="#231f20" stroke-width="1.5" />
<path d="M580 1461.9 L598.5 1457.6 M580 1464.3 L598.5 1459.9" fill="none" stroke="#fff" stroke-width="1.3" stroke-dasharray="2.2 1.2" stroke-linecap="butt"/>
<path d="M593.4 1454.8 L593.4 1449.9 L608.3 1446.3 L609 1458.4 L613.3 1458.4" fill="none" stroke="#231f20" stroke-width="1.8" />
<path d="M391.1 1502.6 C388.1 1504.7 378 1509.5 373.3 1515.1 C368.6 1520.7 365.2 1529.3 362.7 1536.4 C360.2 1543.5 359.2 1550.6 358.2 1557.7 C357.1 1564.8 356.5 1571.6 356.4 1579 C356.2 1586.4 356.4 1593.8 357.3 1602.1 C358.2 1610.4 360.6 1620.1 361.8 1628.8 C363 1637.5 363.1 1646.4 364.4 1654.2 C365.7 1662 368.3 1667.5 369.8 1675.5 C371.3 1683.5 372.9 1692.7 373.3 1702.2 C373.7 1711.7 373.4 1722.6 372.4 1732.4 C371.4 1742.2 369.5 1752.8 367.1 1760.8 C364.7 1768.8 361.3 1775.4 358.2 1780.4 C355.1 1785.5 351.6 1788.3 348.4 1791.1 C345.2 1793.9 340.7 1796.3 339.2 1797.3" fill="none" stroke="#231f20" stroke-width="2" />
<path d="M362.7 1650.7 C360.3 1652.8 352.5 1657.5 348.4 1663.1 C344.2 1668.7 340.8 1676.4 337.8 1684.4 C334.9 1692.4 332.2 1701.9 330.7 1711.1 C329.2 1720.3 328.6 1730 328.9 1739.5 C329.2 1749 330.9 1759.4 332.4 1768 C333.9 1776.6 336.7 1786.2 337.8 1791.1 C338.9 1796 339 1796.3 339.2 1797.3" fill="none" stroke="#231f20" stroke-width="1.8" />
<path d="M339.2 1797.3 L545.7 1732.6 L544 1735.8 L345 1796.8Z" fill="#231f20" stroke="#231f20" stroke-width="0.8" />
<path d="M352 1787.6 L543.9 1731.2" stroke="#231f20" stroke-width="0.9" fill="none" />
<path d="M395 1773.2 L470 1749.9" fill="none" stroke="#231f20" stroke-width="0.7" stroke-dasharray="14 4 30 6"/>
<path d="M566.2 1669.3 L564.6 1686.3 L560.8 1704.7 L553.9 1723.2 L545.7 1733.3 L553 1766.5 L553 1766.5 L563.1 1754 L570.8 1738.6 L577 1720.1 L580.8 1700.1 L582.4 1680.1Z" fill="#fff" stroke="none" stroke-width="0" />
<path d="M582.4 1680.1 L580.8 1700.1 L577 1720.1 L570.8 1738.6 L563.1 1754 L553 1766.5 L595 1756.2 L601.6 1752.5 L609.3 1744.8 L617 1730.9 L623.2 1714 L627.8 1692.4 L629.3 1670.1Z" fill="#fff" stroke="none" stroke-width="0" />
<path d="M566.2 1669.3 C565.9 1672.1 565.5 1680.4 564.6 1686.3 C563.7 1692.2 562.6 1698.5 560.8 1704.7 C559 1710.9 556.4 1718.4 553.9 1723.2 C551.4 1728 547.1 1731.6 545.7 1733.3" fill="none" stroke="#231f20" stroke-width="1.8" />
<path d="M483.5 1758.2 C485.9 1759.8 493 1765.3 497.7 1768 C502.4 1770.7 506.9 1772.9 511.9 1774.2 C516.9 1775.5 522.8 1776.2 527.9 1775.9 C533 1775.6 538 1774 542.2 1772.4 C546.4 1770.8 551.2 1767.5 553 1766.5" fill="none" stroke="#231f20" stroke-width="1.8" />
<path d="M582.4 1680.1 C582.1 1683.4 581.7 1693.4 580.8 1700.1 C579.9 1706.8 578.7 1713.7 577 1720.1 C575.3 1726.5 573.1 1732.9 570.8 1738.6 C568.5 1744.2 566.1 1749.3 563.1 1754 C560.1 1758.7 554.7 1764.4 553 1766.5" fill="none" stroke="#231f20" stroke-width="1.8" />
<path d="M629.3 1670.1 C629 1673.8 628.8 1685.1 627.8 1692.4 C626.8 1699.7 625 1707.6 623.2 1714 C621.4 1720.4 619.3 1725.8 617 1730.9 C614.7 1736 611.9 1741.2 609.3 1744.8 C606.7 1748.4 604 1750.6 601.6 1752.5 C599.2 1754.4 596.1 1755.6 595 1756.2" fill="none" stroke="#231f20" stroke-width="1.8" />
<path d="M553 1765.6 L601 1751.5 L596 1756.8 L551 1768.4Z" fill="#231f20" stroke="#231f20" stroke-width="0.8" />
<path d="M572 1757.1 L600 1750.2" stroke="#231f20" stroke-width="0.9" fill="none" />
<path d="M566.2 1669.3 L582.4 1680.1 L629.3 1670.1 L623.9 1664.7 L589.3 1661.6 L569 1666.5Z" fill="#fff" stroke="none" stroke-width="0" />
<path d="M566.2 1669.3 L582.4 1680.1 L629.3 1669.4 L624 1663.8" fill="none" stroke="#231f20" stroke-width="1.8" />
<path d="M566.2 1669.3 L569.3 1666.2 L589.1 1661.5 L613.2 1654 L638.1 1647.4" fill="none" stroke="#231f20" stroke-width="1.8" />
<path d="M589.1 1661.9 L598.2 1670.2 L624 1663.5 L653 1654.4 L690.3 1642.8" fill="none" stroke="#231f20" stroke-width="2" />
<path d="M595.8 1665.2 L614.8 1659.8" stroke="#231f20" stroke-width="1.3" fill="none" />
<path d="M604.9 1668.1 L650.5 1654.8" stroke="#231f20" stroke-width="1.3" fill="none" />
<path d="M614.4 1656.1 L641 1648.6 L641.8 1652.8 L614.8 1659.8Z" fill="#a8a8a8" stroke="#231f20" stroke-width="1.3" />
<path d="M617.5 1657.3 L639 1651.3" fill="none" stroke="#fff" stroke-width="0.9" stroke-dasharray="2 1.4"/>
<path d="M639.5 1648.4 Q645.5 1647.6 648.5 1652 L642.5 1653 Z" fill="#231f20" stroke="#231f20" stroke-width="1" />
<path d="M650.1 1649 L657.5 1648.6 L657.9 1653.6 L651.3 1654.2Z" fill="#fff" stroke="#231f20" stroke-width="1.6" />
<path d="M650.1 1644.5 L673.3 1637.8 L674.5 1642 L652.2 1648.2Z" fill="#a8a8a8" stroke="#231f20" stroke-width="1.4" />
<path d="M654 1645.5 L672 1640.4" fill="none" stroke="#fff" stroke-width="0.9" stroke-dasharray="2 1.4"/>
<path d="M674.5 1642 L687.8 1637.8 L690.3 1640.7 L675.4 1645.7Z" fill="#fff" stroke="#231f20" stroke-width="1.4" />
<path d="M658 1652.8 L674.5 1646.5" stroke="#231f20" stroke-width="1.3" fill="none" />
<path d="M683.7 1635.8 L690.3 1640.7" fill="none" stroke="#231f20" stroke-width="1.6" />
<path d="M505.5 1366.5 L505.5 1383.5 A6.9 3 0 0 0 519.3 1383.5 L519.3 1366.5 Z" fill="#fff" stroke="#231f20" stroke-width="1.2" />
<path d="M505.5 1369.9 A6.9 3 0 0 0 519.3 1369.9" fill="none" stroke="#231f20" stroke-width="1.3" />
<path d="M505.5 1373.3 A6.9 3 0 0 0 519.3 1373.3" fill="none" stroke="#231f20" stroke-width="1.3" />
<path d="M505.5 1376.7 A6.9 3 0 0 0 519.3 1376.7" fill="none" stroke="#231f20" stroke-width="1.3" />
<path d="M505.5 1380.1 A6.9 3 0 0 0 519.3 1380.1" fill="none" stroke="#231f20" stroke-width="1.3" />
<path d="M505.5 1383.5 A6.9 3 0 0 0 519.3 1383.5" fill="none" stroke="#231f20" stroke-width="1.3" />
<ellipse cx="512.4" cy="1366.5" rx="6.9" ry="3" fill="#fff" stroke="#231f20" stroke-width="1.3"/>
<circle cx="513.3" cy="1402.6" r="6.2" fill="#fff" stroke="#231f20" stroke-width="1.6"/>
<path d="M891.2 1370.4 L891.2 1419" stroke="#231f20" stroke-width="2.2" fill="none" stroke-linecap="butt"/>
<path d="M891.2 1427 L891.2 1485" stroke="#231f20" stroke-width="2.2" fill="none" stroke-linecap="butt"/>
<path d="M891.2 1490.5 L891.2 1496" stroke="#231f20" stroke-width="2.2" fill="none" stroke-linecap="butt"/>
<path d="M891.2 1501 L891.2 1570" stroke="#231f20" stroke-width="2.2" fill="none" stroke-linecap="butt"/>
<path d="M891.2 1577 L891.2 1651" stroke="#231f20" stroke-width="2.2" fill="none" stroke-linecap="butt"/>
<path d="M891.2 1370.6 L942.8 1356.6" stroke="#231f20" stroke-width="1.8" fill="none" />
<path d="M942.8 1355.6 C944.2 1354.3 948.1 1350.3 951.3 1348.1 C954.5 1345.9 958.4 1343.8 962 1342.2 C965.6 1340.6 968.8 1339.7 972.7 1338.5 C976.6 1337.3 981.9 1335.6 985.4 1334.8 C988.9 1334 992.6 1333.9 994 1333.7" fill="none" stroke="#231f20" stroke-width="1.8" />
<path d="M969.5 1340.3 C972.1 1339.5 981 1336.5 985.4 1335.5 C989.8 1334.5 992.9 1334.4 996.1 1334.5 C999.3 1334.6 1002.5 1335.1 1004.6 1336.1 C1006.7 1337.1 1008.2 1339.6 1008.9 1340.3" fill="none" stroke="#231f20" stroke-width="3.6" />
<path d="M985 1336 Q997 1334.5 1005 1337 L1008 1342 Q1000 1339.5 990 1340 Z" fill="#231f20" stroke="#231f20" stroke-width="1" />
<path d="M891.2 1384.8 L992.9 1358.8" stroke="#231f20" stroke-width="1.8" fill="none" />
<path d="M943.9 1356.1 C946.2 1355.4 953.3 1352.8 957.7 1351.8 C962.1 1350.8 966.6 1350.3 970.5 1350.2 C974.4 1350.1 978 1350.5 981.2 1351.3 C984.4 1352.1 987.6 1353.8 989.7 1355 C991.8 1356.2 993.3 1357.7 994 1358.2" fill="none" stroke="#231f20" stroke-width="1.8" />
<path d="M975.9 1341.2 C977.5 1341.5 982.4 1342.2 985.4 1343.3 C988.4 1344.4 991.9 1346.3 994 1347.6 C996.1 1348.8 997.5 1350.3 998.2 1350.8" fill="none" stroke="#231f20" stroke-width="1.8" />
<path d="M994 1358.2 L996.1 1351.3 L1006.8 1347.6 L1007.3 1341.7 L1015.3 1341.2 L1017.4 1344.9 L1061.2 1333.2 L1062.8 1328.9" fill="none" stroke="#231f20" stroke-width="1.8" />
<path d="M1004.6 1334.3 L1026 1327.3" fill="none" stroke="#231f20" stroke-width="1.8" />
<path d="M1026 1327.3 C1026.3 1326.8 1026.3 1325.2 1028.1 1324.1 C1029.9 1323 1033.4 1321.9 1036.6 1320.9 C1039.8 1319.9 1043.7 1319.1 1047.3 1318.3 C1050.9 1317.5 1056.2 1316.5 1058 1316.1" fill="none" stroke="#231f20" stroke-width="1.8" />
<path d="M1042 1320.9 C1043.8 1321.4 1049.6 1322.8 1052.6 1324.1 C1055.6 1325.3 1058.4 1327.5 1060.1 1328.4 C1061.8 1329.3 1062.3 1329.3 1062.8 1329.5" fill="none" stroke="#231f20" stroke-width="1.6" />
<path d="M1047.3 1319.7 C1048.9 1320 1054.2 1320.7 1056.9 1321.8 C1059.6 1322.9 1062.2 1325.4 1063.3 1326.1" fill="none" stroke="#231f20" stroke-width="1.4" />
<path d="M1058 1316.1 L1078.2 1312.9 L1092.1 1320.9 L1071.8 1325.2Z" fill="#fff" stroke="#231f20" stroke-width="1.4" />
<path d="M1067.2 1317.9 L1079.3 1315.8" stroke="#231f20" stroke-width="1" fill="none" />
<path d="M1071.3 1320.6 L1083.5 1318.3" stroke="#231f20" stroke-width="1" fill="none" />
<path d="M1071.8 1325.2 L1092.1 1320.9 L1092.1 1326.3 L1072.9 1331.1Z" fill="#231f20" stroke="#231f20" stroke-width="1" />
<path d="M1078.2 1312.9 L1138 1295.6" stroke="#231f20" stroke-width="1.8" fill="none" />
<path d="M1092.1 1321.5 L1151.5 1304.6" stroke="#231f20" stroke-width="1.8" fill="none" />
<path d="M1127 1298.6 C1128.6 1298.3 1133.6 1296.7 1136.4 1296.8 C1139.2 1296.9 1141.7 1297.8 1144 1299 C1146.3 1300.2 1149.4 1303.2 1150.5 1304" fill="none" stroke="#231f20" stroke-width="1.4" />
<path d="M1136.4 1295.8 L1162.2 1289.5 L1173.8 1298.4 L1149.8 1304.6Z" fill="#fff" stroke="#231f20" stroke-width="1.4" />
<path d="M1146.7 1296.9 L1161.9 1293.1" stroke="#231f20" stroke-width="1" fill="none" />
<path d="M1150.6 1299.5 L1165.5 1295.8" stroke="#231f20" stroke-width="1" fill="none" />
<path d="M1151.5 1304.6 L1173.8 1298.4 L1173.8 1302.9 L1153.3 1309.1Z" fill="#231f20" stroke="#231f20" stroke-width="1" />
<path d="M1162.2 1289.5 L1185.3 1285.1 L1199.5 1293.1 L1176.4 1298.4Z" fill="#fff" stroke="#231f20" stroke-width="1.4" />
<path d="M1172.2 1291 L1186.1 1288.2" stroke="#231f20" stroke-width="1" fill="none" />
<path d="M1176.5 1293.6 L1190.4 1290.6" stroke="#231f20" stroke-width="1" fill="none" />
<path d="M1176.4 1298.4 L1199.5 1293.1 L1199.5 1298.4 L1178.2 1303.2Z" fill="#231f20" stroke="#231f20" stroke-width="1" />
<path d="M1185.3 1285.1 L1224.4 1272.7" stroke="#231f20" stroke-width="1.8" fill="none" />
<path d="M1199.5 1293.4 L1236 1282.6" stroke="#231f20" stroke-width="1.8" fill="none" />
<path d="M1212 1276.3 C1213.8 1275.9 1219.6 1273.7 1222.6 1273.7 C1225.6 1273.7 1227.8 1275 1230 1276.3 C1232.2 1277.6 1235 1280.6 1236 1281.5" fill="none" stroke="#231f20" stroke-width="1.4" />
<path d="M1222.6 1272.7 L1242.2 1268.2 L1258.2 1276.2 L1235.1 1282.4Z" fill="#fff" stroke="#231f20" stroke-width="1.4" />
<path d="M1231.5 1274.4 L1243.9 1271.4" stroke="#231f20" stroke-width="1" fill="none" />
<path d="M1235.5 1277.1 L1248.5 1273.8" stroke="#231f20" stroke-width="1" fill="none" />
<path d="M1236 1282.4 L1258.2 1276.2 L1258.2 1282.4 L1236.8 1288.3Z" fill="#231f20" stroke="#231f20" stroke-width="1" />
<path d="M1242.2 1268.2 L1258.2 1263.8 Q1268.8 1260.2 1277 1261.3 Q1285.5 1262.7 1291 1266.4" fill="none" stroke="#231f20" stroke-width="1.9" />
<path d="M1258.2 1276.4 L1291 1266.4" stroke="#231f20" stroke-width="1.8" fill="none" />
<path d="M1291 1266.4 L1291 1306.4 L1267.9 1313.5 L1267.9 1295.8 L1263.5 1294.9 L891.2 1393.7" fill="none" stroke="#231f20" stroke-width="1.9" />
<path d="M1242.2 1313.5 C1239.2 1317.3 1228.9 1328.3 1224.4 1336.6 C1220 1344.9 1217.3 1354.4 1215.5 1363.3 C1213.7 1372.2 1213.5 1381.6 1213.7 1389.9 C1213.9 1398.2 1215.2 1405.3 1216.8 1413 C1218.4 1420.7 1220.5 1427.7 1223.5 1436 C1226.5 1444.3 1230.8 1455.1 1234.5 1463 C1238.2 1470.9 1243.8 1480.1 1245.7 1483.5" fill="none" stroke="#231f20" stroke-width="1.6" />
<path d="M1251.1 1310 C1249 1314.4 1241.6 1327.7 1238.6 1336.6 C1235.6 1345.5 1234.3 1355.2 1233.3 1363.3 C1232.3 1371.4 1232.4 1377.7 1232.8 1385 C1233.2 1392.3 1234 1399.8 1235.5 1407 C1237 1414.2 1238.9 1420.8 1241.5 1428.5 C1244.1 1436.2 1247.1 1444.9 1251.1 1453.3 C1255.1 1461.7 1262.9 1474.8 1265.3 1479.1" fill="none" stroke="#231f20" stroke-width="1.6" />
<path d="M1267.9 1313.5 Q1262 1311.5 1251.1 1310 Q1246 1311 1242.2 1313.5" fill="none" stroke="#231f20" stroke-width="1.6" />
<path d="M891.2 1578.9 L1332.8 1462.2" stroke="#231f20" stroke-width="1.9" fill="none" />
<path d="M891.2 1584.6 L1067.7 1539.1" stroke="#231f20" stroke-width="1.8" fill="none" />
<path d="M891.2 1647 L1046.4 1603.7 L1046.4 1605.3 L891.2 1651.8Z" fill="#231f20" stroke="#231f20" stroke-width="0.8" />
<path d="M915 1637.5 L1043 1601.5" stroke="#231f20" stroke-width="0.8" fill="none" />
<path d="M1067.7 1539.1 C1067.2 1542.5 1066.2 1552.7 1064.8 1559.7 C1063.4 1566.7 1061.6 1574.6 1059.2 1581 C1056.8 1587.4 1053.2 1593.6 1050.6 1598.1 C1048 1602.6 1046.3 1604.5 1043.5 1608.1 C1040.7 1611.6 1037.1 1616.6 1033.6 1619.4 C1030 1622.2 1026 1624.5 1022.2 1625.1 C1018.4 1625.7 1012.7 1623.3 1010.8 1623" fill="none" stroke="#231f20" stroke-width="1.8" />
<path d="M1073.4 1541.2 C1072.9 1545 1071.9 1556.7 1070.5 1564 C1069.1 1571.3 1067.2 1578.7 1064.8 1585.3 C1062.4 1591.9 1059.1 1598.6 1056.3 1603.8 C1053.5 1609 1049.2 1614.5 1047.8 1616.6" fill="none" stroke="#231f20" stroke-width="1.6" />
<path d="M1082.6 1539.1 C1082.2 1542.5 1081.8 1552.5 1080.5 1559.7 C1079.2 1566.9 1077.2 1575.4 1074.8 1582.5 C1072.4 1589.6 1069.1 1597 1066.3 1602.4 C1063.5 1607.9 1059.1 1613.1 1057.7 1615.2" fill="none" stroke="#231f20" stroke-width="1.6" />
<path d="M1086.2 1539.1 C1085.7 1543.2 1084.7 1556.3 1083.3 1564 C1081.9 1571.7 1080 1578.7 1077.6 1585.3 C1075.2 1591.9 1071.9 1599.1 1069.1 1603.8 C1066.3 1608.5 1062 1612 1060.6 1613.7" fill="none" stroke="#231f20" stroke-width="1.8" />
<path d="M1094 1536.3 C1093.7 1539.7 1093.2 1549.7 1091.9 1556.9 C1090.6 1564.1 1088.6 1572.7 1086.2 1579.6 C1083.8 1586.5 1080.4 1593.1 1077.6 1598.1 C1074.8 1603.1 1070.5 1607.6 1069.1 1609.5" fill="none" stroke="#231f20" stroke-width="1.8" />
<path d="M1073.4 1541.2 L1083.4 1538.4 M1086.2 1539.1 L1091.9 1536.3 L1094 1536.3" fill="none" stroke="#231f20" stroke-width="1.6" />
<path d="M1047.8 1616.6 L1060.6 1613.7 L1069.1 1609.5" fill="none" stroke="#231f20" stroke-width="1.8" />
<path d="M1091.9 1536.3 L1373.7 1468.4" stroke="#231f20" stroke-width="1.8" fill="none" />
<path d="M1069.1 1609.5 L1336.4 1543.1" stroke="#231f20" stroke-width="2" fill="none" />
<path d="M1373.7 1467.9 C1373.4 1471.4 1373.4 1481.9 1371.9 1488.9 C1370.4 1496 1367.8 1503.7 1364.8 1510.2 C1361.8 1516.7 1357.6 1523 1354.1 1528 C1350.5 1533 1346.5 1537.9 1343.5 1540.4 C1340.5 1542.9 1337.6 1542.6 1336.4 1543.1" fill="none" stroke="#231f20" stroke-width="2" />
<path d="M1322 1541.3 L1349 1533.5" stroke="#231f20" stroke-width="1" fill="none" />
<path d="M1120 1593.5 L1320 1543" fill="none" stroke="#231f20" stroke-width="0.8" stroke-dasharray="2 3 10 4 3 5"/>
<path d="M1323 1464.9 L1323 1452.4 L1347 1446.2 L1373.7 1467.5" fill="none" stroke="#231f20" stroke-width="1.9" />
<path d="M1323 1452.4 L1332.8 1460.4 L1332.8 1462.2" fill="none" stroke="#231f20" stroke-width="1.7" />
<path d="M1152.4 1518.2 L1153.1 1524.1 L1153.5 1529.9 L1153.5 1535.6 L1153.2 1541.3 L1152.4 1546.9 L1151.4 1552.4 L1150 1557.8 L1148.2 1563.2 L1146.1 1568.5 L1143.6 1573.7 L1140.8 1578.8 L1137.6 1583.8 L1134.1 1588.8 L1130.2 1593.7 L1151.5 1587 L1155.4 1582.3 L1159 1577.6 L1162.1 1572.8 L1165 1567.9 L1167.4 1563 L1169.5 1557.9 L1171.3 1552.9 L1172.7 1547.7 L1173.8 1542.4 L1174.5 1537.1 L1174.8 1531.8 L1174.8 1526.3 L1174.5 1520.8 L1173.8 1515.2Z" fill="#fff" stroke="#231f20" stroke-width="1.4" />
<path d="M1152.8 1521.4 L1174.1 1518.2" stroke="#231f20" stroke-width="0.9" fill="none" stroke="#444"/>
<path d="M1153.2 1524.5 L1174.5 1521.2" stroke="#231f20" stroke-width="0.9" fill="none" stroke="#444"/>
<path d="M1153.4 1527.7 L1174.7 1524.2" stroke="#231f20" stroke-width="0.9" fill="none" stroke="#444"/>
<path d="M1153.5 1530.8 L1174.8 1527.1" stroke="#231f20" stroke-width="0.9" fill="none" stroke="#444"/>
<path d="M1153.5 1533.9 L1174.8 1530.1" stroke="#231f20" stroke-width="0.9" fill="none" stroke="#444"/>
<path d="M1153.4 1536.9 L1174.7 1533" stroke="#231f20" stroke-width="0.9" fill="none" stroke="#444"/>
<path d="M1153.2 1540 L1174.6 1535.9" stroke="#231f20" stroke-width="0.9" fill="none" stroke="#444"/>
<path d="M1152.9 1543 L1174.3 1538.8" stroke="#231f20" stroke-width="0.9" fill="none" stroke="#444"/>
<path d="M1152.6 1546 L1173.9 1541.6" stroke="#231f20" stroke-width="0.9" fill="none" stroke="#444"/>
<path d="M1152 1549 L1173.4 1544.5" stroke="#231f20" stroke-width="0.9" fill="none" stroke="#444"/>
<path d="M1151.5 1552 L1172.8 1547.3" stroke="#231f20" stroke-width="0.9" fill="none" stroke="#444"/>
<path d="M1150.7 1554.9 L1172.1 1550.1" stroke="#231f20" stroke-width="0.9" fill="none" stroke="#444"/>
<path d="M1150 1557.8 L1171.3 1552.9" stroke="#231f20" stroke-width="0.9" fill="none" stroke="#444"/>
<path d="M1149 1560.7 L1170.4 1555.6" stroke="#231f20" stroke-width="0.9" fill="none" stroke="#444"/>
<path d="M1148.1 1563.6 L1169.4 1558.3" stroke="#231f20" stroke-width="0.9" fill="none" stroke="#444"/>
<path d="M1146.9 1566.4 L1168.2 1561" stroke="#231f20" stroke-width="0.9" fill="none" stroke="#444"/>
<path d="M1145.7 1569.3 L1167 1563.7" stroke="#231f20" stroke-width="0.9" fill="none" stroke="#444"/>
<path d="M1144.4 1572.1 L1165.7 1566.4" stroke="#231f20" stroke-width="0.9" fill="none" stroke="#444"/>
<path d="M1143 1574.9 L1164.3 1569" stroke="#231f20" stroke-width="0.9" fill="none" stroke="#444"/>
<path d="M1141.5 1577.6 L1162.8 1571.7" stroke="#231f20" stroke-width="0.9" fill="none" stroke="#444"/>
<path d="M1139.8 1580.3 L1161.2 1574.3" stroke="#231f20" stroke-width="0.9" fill="none" stroke="#444"/>
<path d="M1138.1 1583.1 L1159.4 1576.8" stroke="#231f20" stroke-width="0.9" fill="none" stroke="#444"/>
<path d="M1136.3 1585.8 L1157.6 1579.4" stroke="#231f20" stroke-width="0.9" fill="none" stroke="#444"/>
<path d="M1134.4 1588.4 L1155.7 1581.9" stroke="#231f20" stroke-width="0.9" fill="none" stroke="#444"/>
<path d="M1132.3 1591.1 L1153.6 1584.5" stroke="#231f20" stroke-width="0.9" fill="none" stroke="#444"/>
<path d="M1152.4 1518.2 L1173.8 1515.2 L1174.3 1519.7 L1153.2 1523.2Z" fill="#231f20" stroke="#231f20" stroke-width="1.2" />
<path d="M1234.2 1496.9 L1235.1 1503 L1235.5 1509 L1235.5 1514.9 L1235.1 1520.8 L1234.2 1526.6 L1232.9 1532.3 L1231.1 1537.9 L1229 1543.5 L1226.3 1548.9 L1223.3 1554.3 L1219.8 1559.6 L1215.8 1564.8 L1211.4 1570 L1206.6 1575 L1228 1570.6 L1232.5 1565.6 L1236.6 1560.5 L1240.2 1555.3 L1243.5 1550.1 L1246.4 1544.8 L1248.8 1539.4 L1250.9 1533.9 L1252.5 1528.3 L1253.7 1522.7 L1254.6 1517 L1255 1511.2 L1255 1505.3 L1254.5 1499.3 L1253.7 1493.3Z" fill="#fff" stroke="#231f20" stroke-width="1.4" />
<path d="M1234.6 1500.1 L1254.2 1496.5" stroke="#231f20" stroke-width="0.9" fill="none" stroke="#444"/>
<path d="M1235.1 1503.4 L1254.6 1499.8" stroke="#231f20" stroke-width="0.9" fill="none" stroke="#444"/>
<path d="M1235.3 1506.7 L1254.8 1503" stroke="#231f20" stroke-width="0.9" fill="none" stroke="#444"/>
<path d="M1235.5 1509.9 L1255 1506.2" stroke="#231f20" stroke-width="0.9" fill="none" stroke="#444"/>
<path d="M1235.5 1513.1 L1255 1509.4" stroke="#231f20" stroke-width="0.9" fill="none" stroke="#444"/>
<path d="M1235.4 1516.3 L1254.9 1512.5" stroke="#231f20" stroke-width="0.9" fill="none" stroke="#444"/>
<path d="M1235.2 1519.4 L1254.7 1515.6" stroke="#231f20" stroke-width="0.9" fill="none" stroke="#444"/>
<path d="M1234.8 1522.6 L1254.3 1518.7" stroke="#231f20" stroke-width="0.9" fill="none" stroke="#444"/>
<path d="M1234.3 1525.7 L1253.9 1521.8" stroke="#231f20" stroke-width="0.9" fill="none" stroke="#444"/>
<path d="M1233.7 1528.8 L1253.3 1524.9" stroke="#231f20" stroke-width="0.9" fill="none" stroke="#444"/>
<path d="M1233 1531.8 L1252.6 1527.9" stroke="#231f20" stroke-width="0.9" fill="none" stroke="#444"/>
<path d="M1232.1 1534.9 L1251.8 1530.9" stroke="#231f20" stroke-width="0.9" fill="none" stroke="#444"/>
<path d="M1231.1 1537.9 L1250.9 1533.9" stroke="#231f20" stroke-width="0.9" fill="none" stroke="#444"/>
<path d="M1230 1540.9 L1249.8 1536.8" stroke="#231f20" stroke-width="0.9" fill="none" stroke="#444"/>
<path d="M1228.8 1543.9 L1248.7 1539.8" stroke="#231f20" stroke-width="0.9" fill="none" stroke="#444"/>
<path d="M1227.3 1546.8 L1247.3 1542.7" stroke="#231f20" stroke-width="0.9" fill="none" stroke="#444"/>
<path d="M1225.9 1549.7 L1245.9 1545.6" stroke="#231f20" stroke-width="0.9" fill="none" stroke="#444"/>
<path d="M1224.2 1552.6 L1244.4 1548.5" stroke="#231f20" stroke-width="0.9" fill="none" stroke="#444"/>
<path d="M1222.5 1555.5 L1242.8 1551.3" stroke="#231f20" stroke-width="0.9" fill="none" stroke="#444"/>
<path d="M1220.6 1558.4 L1241 1554.1" stroke="#231f20" stroke-width="0.9" fill="none" stroke="#444"/>
<path d="M1218.6 1561.2 L1239.1 1556.9" stroke="#231f20" stroke-width="0.9" fill="none" stroke="#444"/>
<path d="M1216.4 1564 L1237.1 1559.7" stroke="#231f20" stroke-width="0.9" fill="none" stroke="#444"/>
<path d="M1214.1 1566.8 L1235 1562.5" stroke="#231f20" stroke-width="0.9" fill="none" stroke="#444"/>
<path d="M1211.8 1569.6 L1232.8 1565.2" stroke="#231f20" stroke-width="0.9" fill="none" stroke="#444"/>
<path d="M1209.2 1572.3 L1230.4 1567.9" stroke="#231f20" stroke-width="0.9" fill="none" stroke="#444"/>
<path d="M1234.2 1496.9 L1253.7 1493.3 L1254.2 1497.8 L1235 1501.9Z" fill="#231f20" stroke="#231f20" stroke-width="1.2" />
<path d="M1257.3 1490.6 L1258 1496.5 L1258.3 1502.3 L1258.4 1508.1 L1258 1513.8 L1257.3 1519.3 L1256.2 1524.9 L1254.8 1530.3 L1253.1 1535.6 L1251 1540.9 L1248.5 1546.1 L1245.7 1551.3 L1242.5 1556.3 L1238.9 1561.3 L1235.1 1566.2 L1256.4 1562.1 L1260.1 1557.2 L1263.5 1552.3 L1266.6 1547.3 L1269.3 1542.2 L1271.6 1537 L1273.7 1531.8 L1275.4 1526.5 L1276.7 1521.1 L1277.7 1515.6 L1278.4 1510 L1278.7 1504.4 L1278.7 1498.7 L1278.4 1492.9 L1277.7 1487.1Z" fill="#fff" stroke="#231f20" stroke-width="1.4" />
<path d="M1257.7 1493.8 L1278.1 1490.2" stroke="#231f20" stroke-width="0.9" fill="none" stroke="#444"/>
<path d="M1258 1497 L1278.4 1493.4" stroke="#231f20" stroke-width="0.9" fill="none" stroke="#444"/>
<path d="M1258.2 1500.1 L1278.6 1496.5" stroke="#231f20" stroke-width="0.9" fill="none" stroke="#444"/>
<path d="M1258.3 1503.2 L1278.7 1499.6" stroke="#231f20" stroke-width="0.9" fill="none" stroke="#444"/>
<path d="M1258.4 1506.3 L1278.7 1502.7" stroke="#231f20" stroke-width="0.9" fill="none" stroke="#444"/>
<path d="M1258.3 1509.4 L1278.7 1505.7" stroke="#231f20" stroke-width="0.9" fill="none" stroke="#444"/>
<path d="M1258.1 1512.4 L1278.5 1508.7" stroke="#231f20" stroke-width="0.9" fill="none" stroke="#444"/>
<path d="M1257.8 1515.5 L1278.2 1511.7" stroke="#231f20" stroke-width="0.9" fill="none" stroke="#444"/>
<path d="M1257.4 1518.5 L1277.8 1514.7" stroke="#231f20" stroke-width="0.9" fill="none" stroke="#444"/>
<path d="M1256.9 1521.5 L1277.3 1517.7" stroke="#231f20" stroke-width="0.9" fill="none" stroke="#444"/>
<path d="M1256.3 1524.4 L1276.8 1520.6" stroke="#231f20" stroke-width="0.9" fill="none" stroke="#444"/>
<path d="M1255.6 1527.4 L1276.1 1523.5" stroke="#231f20" stroke-width="0.9" fill="none" stroke="#444"/>
<path d="M1254.8 1530.3 L1275.4 1526.5" stroke="#231f20" stroke-width="0.9" fill="none" stroke="#444"/>
<path d="M1253.9 1533.2 L1274.5 1529.3" stroke="#231f20" stroke-width="0.9" fill="none" stroke="#444"/>
<path d="M1252.9 1536 L1273.5 1532.2" stroke="#231f20" stroke-width="0.9" fill="none" stroke="#444"/>
<path d="M1251.8 1538.9 L1272.4 1535" stroke="#231f20" stroke-width="0.9" fill="none" stroke="#444"/>
<path d="M1250.6 1541.7 L1271.3 1537.8" stroke="#231f20" stroke-width="0.9" fill="none" stroke="#444"/>
<path d="M1249.2 1544.5 L1270 1540.6" stroke="#231f20" stroke-width="0.9" fill="none" stroke="#444"/>
<path d="M1247.8 1547.3 L1268.6 1543.4" stroke="#231f20" stroke-width="0.9" fill="none" stroke="#444"/>
<path d="M1246.3 1550.1 L1267.2 1546.1" stroke="#231f20" stroke-width="0.9" fill="none" stroke="#444"/>
<path d="M1244.7 1552.8 L1265.6 1548.8" stroke="#231f20" stroke-width="0.9" fill="none" stroke="#444"/>
<path d="M1243 1555.5 L1264 1551.5" stroke="#231f20" stroke-width="0.9" fill="none" stroke="#444"/>
<path d="M1241.1 1558.2 L1262.2 1554.2" stroke="#231f20" stroke-width="0.9" fill="none" stroke="#444"/>
<path d="M1239.2 1560.9 L1260.4 1556.8" stroke="#231f20" stroke-width="0.9" fill="none" stroke="#444"/>
<path d="M1237.2 1563.5 L1258.4 1559.5" stroke="#231f20" stroke-width="0.9" fill="none" stroke="#444"/>
<path d="M1257.3 1490.6 L1277.7 1487.1 L1278.2 1491.6 L1258.1 1495.6Z" fill="#231f20" stroke="#231f20" stroke-width="1.2" />
<path d="M1317.7 1474.6 L1318.6 1480.8 L1319 1486.8 L1319 1492.8 L1318.6 1498.7 L1317.7 1504.5 L1316.4 1510.2 L1314.7 1515.9 L1312.5 1521.4 L1309.9 1526.9 L1306.8 1532.4 L1303.3 1537.7 L1299.4 1542.9 L1295 1548.1 L1290.2 1553.2 L1313.3 1548.9 L1317.6 1543.9 L1321.6 1538.8 L1325.1 1533.6 L1328.3 1528.3 L1331.1 1522.9 L1333.4 1517.5 L1335.4 1512 L1337 1506.4 L1338.2 1500.7 L1338.9 1494.9 L1339.3 1489.1 L1339.3 1483.2 L1338.9 1477.2 L1338.1 1471.1Z" fill="#fff" stroke="#231f20" stroke-width="1.4" />
<path d="M1318.2 1477.9 L1338.6 1474.4" stroke="#231f20" stroke-width="0.9" fill="none" stroke="#444"/>
<path d="M1318.6 1481.2 L1339 1477.6" stroke="#231f20" stroke-width="0.9" fill="none" stroke="#444"/>
<path d="M1318.9 1484.5 L1339.2 1480.9" stroke="#231f20" stroke-width="0.9" fill="none" stroke="#444"/>
<path d="M1319 1487.7 L1339.3 1484.1" stroke="#231f20" stroke-width="0.9" fill="none" stroke="#444"/>
<path d="M1319 1491 L1339.3 1487.3" stroke="#231f20" stroke-width="0.9" fill="none" stroke="#444"/>
<path d="M1318.9 1494.2 L1339.3 1490.4" stroke="#231f20" stroke-width="0.9" fill="none" stroke="#444"/>
<path d="M1318.7 1497.3 L1339 1493.6" stroke="#231f20" stroke-width="0.9" fill="none" stroke="#444"/>
<path d="M1318.3 1500.5 L1338.7 1496.7" stroke="#231f20" stroke-width="0.9" fill="none" stroke="#444"/>
<path d="M1317.9 1503.6 L1338.3 1499.8" stroke="#231f20" stroke-width="0.9" fill="none" stroke="#444"/>
<path d="M1317.2 1506.7 L1337.7 1502.9" stroke="#231f20" stroke-width="0.9" fill="none" stroke="#444"/>
<path d="M1316.5 1509.8 L1337.1 1505.9" stroke="#231f20" stroke-width="0.9" fill="none" stroke="#444"/>
<path d="M1315.6 1512.8 L1336.3 1508.9" stroke="#231f20" stroke-width="0.9" fill="none" stroke="#444"/>
<path d="M1314.7 1515.9 L1335.4 1512" stroke="#231f20" stroke-width="0.9" fill="none" stroke="#444"/>
<path d="M1313.5 1518.9 L1334.3 1514.9" stroke="#231f20" stroke-width="0.9" fill="none" stroke="#444"/>
<path d="M1312.3 1521.9 L1333.2 1517.9" stroke="#231f20" stroke-width="0.9" fill="none" stroke="#444"/>
<path d="M1310.9 1524.8 L1332 1520.8" stroke="#231f20" stroke-width="0.9" fill="none" stroke="#444"/>
<path d="M1309.4 1527.8 L1330.6 1523.7" stroke="#231f20" stroke-width="0.9" fill="none" stroke="#444"/>
<path d="M1307.7 1530.7 L1329.1 1526.6" stroke="#231f20" stroke-width="0.9" fill="none" stroke="#444"/>
<path d="M1306 1533.6 L1327.6 1529.5" stroke="#231f20" stroke-width="0.9" fill="none" stroke="#444"/>
<path d="M1304.1 1536.5 L1325.9 1532.3" stroke="#231f20" stroke-width="0.9" fill="none" stroke="#444"/>
<path d="M1302.1 1539.3 L1324 1535.2" stroke="#231f20" stroke-width="0.9" fill="none" stroke="#444"/>
<path d="M1300 1542.1 L1322.1 1538" stroke="#231f20" stroke-width="0.9" fill="none" stroke="#444"/>
<path d="M1297.7 1544.9 L1320 1540.7" stroke="#231f20" stroke-width="0.9" fill="none" stroke="#444"/>
<path d="M1295.3 1547.7 L1317.9 1543.5" stroke="#231f20" stroke-width="0.9" fill="none" stroke="#444"/>
<path d="M1292.7 1550.4 L1315.6 1546.2" stroke="#231f20" stroke-width="0.9" fill="none" stroke="#444"/>
<path d="M1317.7 1474.6 L1338.1 1471.1 L1338.6 1475.6 L1318.5 1479.6Z" fill="#231f20" stroke="#231f20" stroke-width="1.2" />
<path d="M1140.9 1524.4 C1140.6 1528.3 1140.9 1539.5 1139.5 1547.5 C1138 1555.5 1135 1565.3 1132 1572.4 C1129 1579.5 1124.9 1585.4 1121.3 1590.2 C1117.8 1595 1112.4 1599.3 1110.7 1601.2" fill="none" stroke="#231f20" stroke-width="1.6" />
<path d="M1144.4 1523.9 C1144.3 1527.8 1144.7 1539.6 1143.4 1547.5 C1142 1555.4 1139.2 1564.7 1136.4 1571.5 C1133.6 1578.3 1130 1583.7 1126.7 1588.4 C1123.3 1593 1118.1 1597.6 1116.3 1599.4" fill="none" stroke="#231f20" stroke-width="1.6" />
<path d="M287.2 663 L287.2 778.9" stroke="#231f20" stroke-width="2.4" fill="none" />
<path d="M287.2 796.4 L281.2 776.9 L293.2 776.9 Z" fill="#111"/>
<path d="M357.9 641.5 L347.5 828.6" stroke="#231f20" stroke-width="2.4" fill="none" />
<path d="M346.5 846.1 L341.6 826.3 L353.6 827 Z" fill="#111"/>
<path d="M419.4 635 L423.9 798.4" stroke="#231f20" stroke-width="2.4" fill="none" />
<path d="M424.4 815.9 L417.9 796.6 L429.9 796.2 Z" fill="#111"/>
<path d="M492.4 626.5 L492.4 770.9" stroke="#231f20" stroke-width="2.4" fill="none" />
<path d="M492.4 788.4 L486.4 768.9 L498.4 768.9 Z" fill="#111"/>
<path d="M762 580 L762 690.8" stroke="#231f20" stroke-width="2.4" fill="none" />
<path d="M762 708.3 L756 688.8 L768 688.8 Z" fill="#111"/>
<path d="M1316 430.4 L1402.4 495.5" stroke="#231f20" stroke-width="2.4" fill="none" />
<path d="M1416.4 506 L1397.2 499.1 L1404.4 489.5 Z" fill="#111"/>
<path d="M702.9 978.6 L593.7 909.7" stroke="#231f20" stroke-width="2.4" fill="none" />
<path d="M578.9 900.4 L598.6 905.7 L592.2 915.9 Z" fill="#111"/>
<path d="M632.8 1017.1 L507.2 926.3" stroke="#231f20" stroke-width="2.4" fill="none" />
<path d="M493 916 L512.3 922.6 L505.3 932.3 Z" fill="#111"/>
<path d="M556.5 1057.1 L441 933.7" stroke="#231f20" stroke-width="2.4" fill="none" />
<path d="M429 920.9 L446.7 931 L437.9 939.2 Z" fill="#111"/>
<path d="M388.9 1109.4 L384.3 1035.1" stroke="#231f20" stroke-width="2.4" fill="none" />
<path d="M383.2 1017.6 L390.4 1036.7 L378.4 1037.4 Z" fill="#111"/>
<path d="M434.2 1275.5 L497.9 1356" stroke="#231f20" stroke-width="2.4" fill="none" />
<path d="M508.8 1369.7 L492 1358.1 L501.4 1350.7 Z" fill="#111"/>
<path d="M606.6 1257.8 L527.9 1383.4" stroke="#231f20" stroke-width="2.4" fill="none" />
<path d="M518.6 1398.2 L523.9 1378.5 L534 1384.9 Z" fill="#111"/>
<path d="M1058.3 1145.6 L1058.3 1298.6" stroke="#231f20" stroke-width="2.4" fill="none" />
<path d="M1058.3 1316.1 L1052.3 1296.6 L1064.3 1296.6 Z" fill="#111"/>
<path d="M1072.7 1142.4 L1141.5 1275.6" stroke="#231f20" stroke-width="2.4" fill="none" />
<path d="M1149.5 1291.1 L1135.2 1276.5 L1145.9 1271 Z" fill="#111"/>
<path d="M1080.7 1137.6 L1215 1260.1" stroke="#231f20" stroke-width="2.4" fill="none" />
<path d="M1227.9 1271.9 L1209.5 1263.2 L1217.5 1254.3 Z" fill="#111"/>
<path d="M584.8 1551 L591.2 1480.9" stroke="#231f20" stroke-width="2.4" fill="none" />
<path d="M592.8 1463.5 L597 1483.5 L585 1482.4 Z" fill="#111"/>
<path d="M478.2 1563.9 L542.4 1487.6" stroke="#231f20" stroke-width="2.4" fill="none" />
<path d="M553.7 1474.2 L545.7 1493 L536.6 1485.3 Z" fill="#111"/>
<circle cx="287.5" cy="640" r="23.2" fill="#fff" stroke="#231f20" stroke-width="2"/>
<text x="287.5" y="649.8" text-anchor="middle" font-size="28" font-weight="bold" fill="#231f20">1</text>
<circle cx="357.9" cy="618.3" r="23.2" fill="#fff" stroke="#231f20" stroke-width="2"/>
<text x="357.9" y="628.1" text-anchor="middle" font-size="28" font-weight="bold" fill="#231f20">2</text>
<circle cx="419.4" cy="611.9" r="23.2" fill="#fff" stroke="#231f20" stroke-width="2"/>
<text x="419.4" y="621.7" text-anchor="middle" font-size="28" font-weight="bold" fill="#231f20">3</text>
<circle cx="490.1" cy="603.5" r="23.2" fill="#fff" stroke="#231f20" stroke-width="2"/>
<text x="490.1" y="613.3" text-anchor="middle" font-size="28" font-weight="bold" fill="#231f20">4</text>
<circle cx="759.6" cy="557" r="23.2" fill="#fff" stroke="#231f20" stroke-width="2"/>
<text x="759.6" y="566.8" text-anchor="middle" font-size="28" font-weight="bold" fill="#231f20">5</text>
<circle cx="1299.5" cy="411.8" r="23.2" fill="#fff" stroke="#231f20" stroke-width="2"/>
<text x="1299.5" y="421.6" text-anchor="middle" font-size="28" font-weight="bold" fill="#231f20">6</text>
<circle cx="721.9" cy="995.3" r="23.2" fill="#fff" stroke="#231f20" stroke-width="2"/>
<text x="721.9" y="1005.1" text-anchor="middle" font-size="28" font-weight="bold" fill="#231f20">7</text>
<circle cx="649.7" cy="1032.6" r="23.2" fill="#fff" stroke="#231f20" stroke-width="2"/>
<text x="649.7" y="1042.4" text-anchor="middle" font-size="28" font-weight="bold" fill="#231f20">8</text>
<circle cx="574" cy="1073.5" r="23.2" fill="#fff" stroke="#231f20" stroke-width="2"/>
<text x="574" y="1083.3" text-anchor="middle" font-size="28" font-weight="bold" fill="#231f20">9</text>
<circle cx="389.5" cy="1132.9" r="23.2" fill="#fff" stroke="#231f20" stroke-width="2"/>
<text x="388.8" y="1142.7" text-anchor="middle" font-size="28" font-weight="bold" fill="#231f20" letter-spacing="-1.5">10</text>
<circle cx="414.3" cy="1261.3" r="23.2" fill="#fff" stroke="#231f20" stroke-width="2"/>
<text x="413.6" y="1271.1" text-anchor="middle" font-size="28" font-weight="bold" fill="#231f20" letter-spacing="-1.5">11</text>
<circle cx="616.4" cy="1235.5" r="23.2" fill="#fff" stroke="#231f20" stroke-width="2"/>
<text x="615.7" y="1245.3" text-anchor="middle" font-size="28" font-weight="bold" fill="#231f20" letter-spacing="-1.5">12</text>
<circle cx="1059.9" cy="1123.2" r="23.2" fill="#fff" stroke="#231f20" stroke-width="2"/>
<text x="1059.2" y="1133" text-anchor="middle" font-size="28" font-weight="bold" fill="#231f20" letter-spacing="-1.5">13</text>
<circle cx="584.8" cy="1574.6" r="23.2" fill="#fff" stroke="#231f20" stroke-width="2"/>
<text x="584.1" y="1584.4" text-anchor="middle" font-size="28" font-weight="bold" fill="#231f20" letter-spacing="-1.5">14</text>
<circle cx="461.6" cy="1581.7" r="23.2" fill="#fff" stroke="#231f20" stroke-width="2"/>
<text x="460.9" y="1591.5" text-anchor="middle" font-size="28" font-weight="bold" fill="#231f20" letter-spacing="-1.5">15</text>
<g transform="translate(1225 2015) scale(0.15404)" fill="#000" stroke="none"><path d="M133 55 L248 55 L183 315 L290 315 L272 387 L55 387 Z"/><path d="M372 55 L598 55 L583 118 L472 118 L460 172 L560 172 L545 232 L445 232 L425 315 L537 315 L520 387 L292 387 Z"/><path fill-rule="evenodd" d="M697 50 L857 50 L875 385 L765 385 L763 290 L680 290 L632 387 L528 387 Z M757 130 L757 228 L712 228 Z"/><path d="M1218 52 L1205 130 C1150 108 1075 105 1035 150 C1000 190 990 250 1020 290 C1050 325 1110 325 1160 320 L1147 383 C1080 400 990 395 935 350 C880 300 870 210 905 140 C940 70 1020 42 1100 40 C1150 40 1190 45 1218 52 Z"/><path d="M1245 55 L1360 55 L1333 172 L1393 172 L1420 55 L1540 55 L1470 385 L1342 385 L1372 250 L1312 250 L1280 385 L1165 385 Z"/></g>
<circle cx="1468.6" cy="2034.6" r="4.4" fill="none" stroke="#000" stroke-width="0.9"/>
<text x="1468.6" y="2037.2" text-anchor="middle" font-size="7" font-weight="bold" fill="#000">R</text>
</svg>
</body></html>
